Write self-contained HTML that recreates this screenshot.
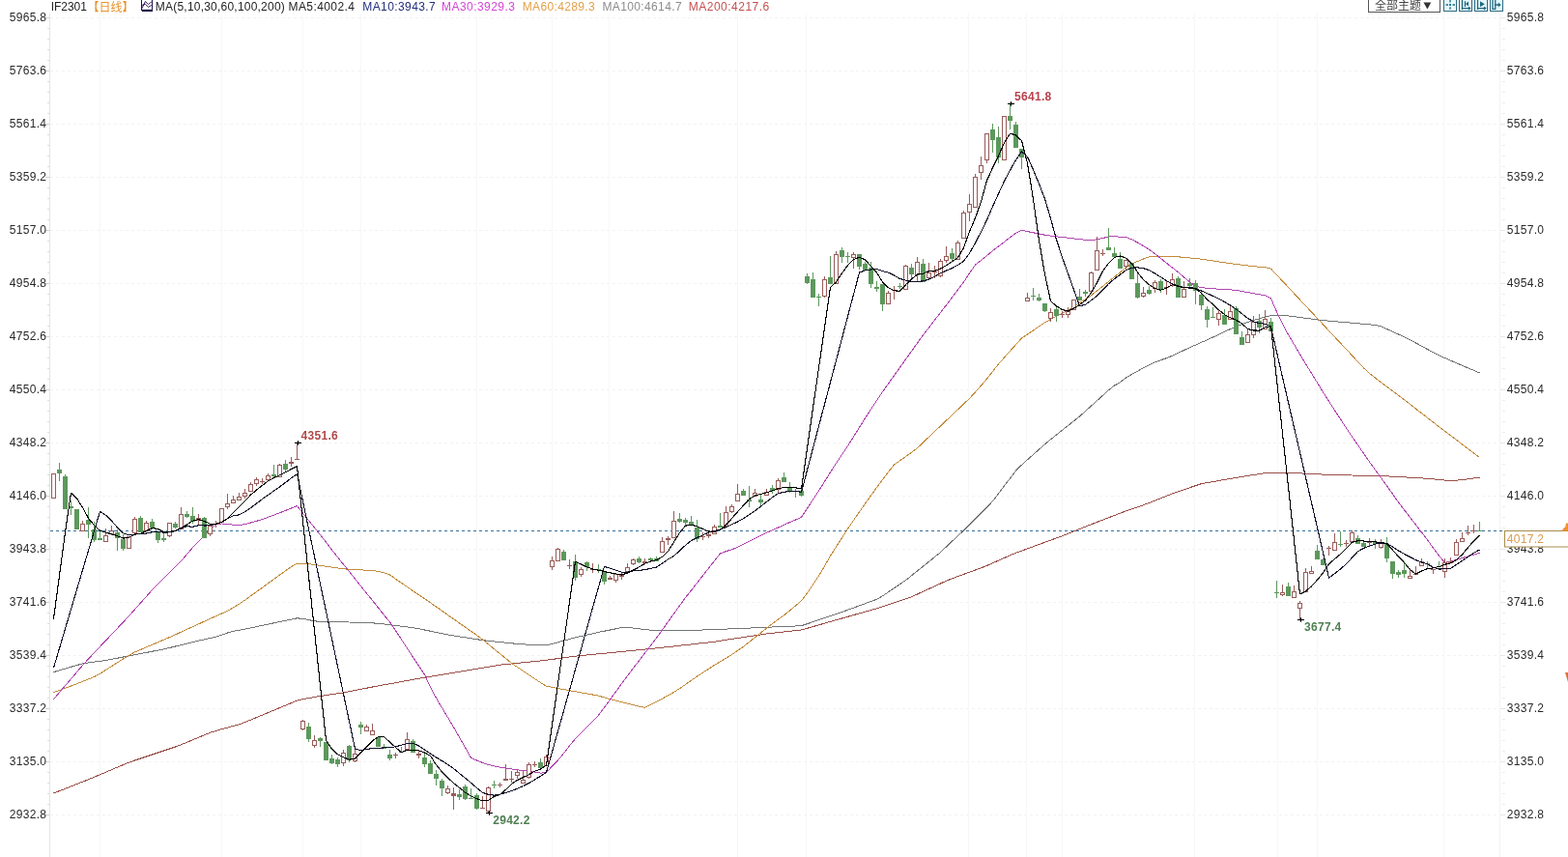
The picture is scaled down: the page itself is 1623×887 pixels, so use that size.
<!DOCTYPE html>
<html><head><meta charset="utf-8"><title>IF2301</title>
<style>
html,body{margin:0;padding:0;background:#fff;}
body{width:1623px;height:887px;overflow:hidden;position:relative;font-family:"Liberation Sans","Noto Sans CJK SC",sans-serif;}
svg{position:absolute;left:0;top:0;}
.ax{font-size:12px;fill:#2a2a2a;font-family:"Liberation Sans",sans-serif;letter-spacing:0.3px;}
.hl{font-size:12px;font-weight:bold;font-family:"Liberation Sans",sans-serif;letter-spacing:0.3px;}
.lg{position:absolute;top:0px;font-size:12px;line-height:14px;white-space:nowrap;letter-spacing:0.35px;}
.tb{position:absolute;}
.lgt{font-size:12px;font-family:"Liberation Sans",sans-serif;}
</style></head><body>
<svg width="1623" height="887" viewBox="0 0 1623 887">
<line x1="52" y1="18.5" x2="1552" y2="18.5" stroke="#f2f2f2" stroke-width="1" stroke-dasharray="3,3"/>
<line x1="47" y1="18.5" x2="51" y2="18.5" stroke="#d0d0d0" stroke-width="1"/>
<line x1="1553" y1="18.5" x2="1558" y2="18.5" stroke="#e6e6e6" stroke-width="1"/>
<line x1="49" y1="29.5" x2="51" y2="29.5" stroke="#dedede" stroke-width="1"/>
<line x1="1555" y1="29.5" x2="1558" y2="29.5" stroke="#ececec" stroke-width="1"/>
<line x1="49" y1="40.5" x2="51" y2="40.5" stroke="#dedede" stroke-width="1"/>
<line x1="1555" y1="40.5" x2="1558" y2="40.5" stroke="#ececec" stroke-width="1"/>
<line x1="49" y1="51.5" x2="51" y2="51.5" stroke="#dedede" stroke-width="1"/>
<line x1="1555" y1="51.5" x2="1558" y2="51.5" stroke="#ececec" stroke-width="1"/>
<line x1="49" y1="62.5" x2="51" y2="62.5" stroke="#dedede" stroke-width="1"/>
<line x1="1555" y1="62.5" x2="1558" y2="62.5" stroke="#ececec" stroke-width="1"/>
<line x1="52" y1="73.5" x2="1552" y2="73.5" stroke="#f2f2f2" stroke-width="1" stroke-dasharray="3,3"/>
<line x1="47" y1="73.5" x2="51" y2="73.5" stroke="#d0d0d0" stroke-width="1"/>
<line x1="1553" y1="73.5" x2="1558" y2="73.5" stroke="#e6e6e6" stroke-width="1"/>
<line x1="49" y1="84.5" x2="51" y2="84.5" stroke="#dedede" stroke-width="1"/>
<line x1="1555" y1="84.5" x2="1558" y2="84.5" stroke="#ececec" stroke-width="1"/>
<line x1="49" y1="95.5" x2="51" y2="95.5" stroke="#dedede" stroke-width="1"/>
<line x1="1555" y1="95.5" x2="1558" y2="95.5" stroke="#ececec" stroke-width="1"/>
<line x1="49" y1="106.5" x2="51" y2="106.5" stroke="#dedede" stroke-width="1"/>
<line x1="1555" y1="106.5" x2="1558" y2="106.5" stroke="#ececec" stroke-width="1"/>
<line x1="49" y1="117.5" x2="51" y2="117.5" stroke="#dedede" stroke-width="1"/>
<line x1="1555" y1="117.5" x2="1558" y2="117.5" stroke="#ececec" stroke-width="1"/>
<line x1="52" y1="128.5" x2="1552" y2="128.5" stroke="#f2f2f2" stroke-width="1" stroke-dasharray="3,3"/>
<line x1="47" y1="128.5" x2="51" y2="128.5" stroke="#d0d0d0" stroke-width="1"/>
<line x1="1553" y1="128.5" x2="1558" y2="128.5" stroke="#e6e6e6" stroke-width="1"/>
<line x1="49" y1="139.5" x2="51" y2="139.5" stroke="#dedede" stroke-width="1"/>
<line x1="1555" y1="139.5" x2="1558" y2="139.5" stroke="#ececec" stroke-width="1"/>
<line x1="49" y1="150.5" x2="51" y2="150.5" stroke="#dedede" stroke-width="1"/>
<line x1="1555" y1="150.5" x2="1558" y2="150.5" stroke="#ececec" stroke-width="1"/>
<line x1="49" y1="161.5" x2="51" y2="161.5" stroke="#dedede" stroke-width="1"/>
<line x1="1555" y1="161.5" x2="1558" y2="161.5" stroke="#ececec" stroke-width="1"/>
<line x1="49" y1="172.5" x2="51" y2="172.5" stroke="#dedede" stroke-width="1"/>
<line x1="1555" y1="172.5" x2="1558" y2="172.5" stroke="#ececec" stroke-width="1"/>
<line x1="52" y1="183.5" x2="1552" y2="183.5" stroke="#f2f2f2" stroke-width="1" stroke-dasharray="3,3"/>
<line x1="47" y1="183.5" x2="51" y2="183.5" stroke="#d0d0d0" stroke-width="1"/>
<line x1="1553" y1="183.5" x2="1558" y2="183.5" stroke="#e6e6e6" stroke-width="1"/>
<line x1="49" y1="194.5" x2="51" y2="194.5" stroke="#dedede" stroke-width="1"/>
<line x1="1555" y1="194.5" x2="1558" y2="194.5" stroke="#ececec" stroke-width="1"/>
<line x1="49" y1="205.5" x2="51" y2="205.5" stroke="#dedede" stroke-width="1"/>
<line x1="1555" y1="205.5" x2="1558" y2="205.5" stroke="#ececec" stroke-width="1"/>
<line x1="49" y1="216.5" x2="51" y2="216.5" stroke="#dedede" stroke-width="1"/>
<line x1="1555" y1="216.5" x2="1558" y2="216.5" stroke="#ececec" stroke-width="1"/>
<line x1="49" y1="227.5" x2="51" y2="227.5" stroke="#dedede" stroke-width="1"/>
<line x1="1555" y1="227.5" x2="1558" y2="227.5" stroke="#ececec" stroke-width="1"/>
<line x1="52" y1="238.5" x2="1552" y2="238.5" stroke="#f2f2f2" stroke-width="1" stroke-dasharray="3,3"/>
<line x1="47" y1="238.5" x2="51" y2="238.5" stroke="#d0d0d0" stroke-width="1"/>
<line x1="1553" y1="238.5" x2="1558" y2="238.5" stroke="#e6e6e6" stroke-width="1"/>
<line x1="49" y1="249.5" x2="51" y2="249.5" stroke="#dedede" stroke-width="1"/>
<line x1="1555" y1="249.5" x2="1558" y2="249.5" stroke="#ececec" stroke-width="1"/>
<line x1="49" y1="260.5" x2="51" y2="260.5" stroke="#dedede" stroke-width="1"/>
<line x1="1555" y1="260.5" x2="1558" y2="260.5" stroke="#ececec" stroke-width="1"/>
<line x1="49" y1="271.5" x2="51" y2="271.5" stroke="#dedede" stroke-width="1"/>
<line x1="1555" y1="271.5" x2="1558" y2="271.5" stroke="#ececec" stroke-width="1"/>
<line x1="49" y1="282.5" x2="51" y2="282.5" stroke="#dedede" stroke-width="1"/>
<line x1="1555" y1="282.5" x2="1558" y2="282.5" stroke="#ececec" stroke-width="1"/>
<line x1="52" y1="293.5" x2="1552" y2="293.5" stroke="#f2f2f2" stroke-width="1" stroke-dasharray="3,3"/>
<line x1="47" y1="293.5" x2="51" y2="293.5" stroke="#d0d0d0" stroke-width="1"/>
<line x1="1553" y1="293.5" x2="1558" y2="293.5" stroke="#e6e6e6" stroke-width="1"/>
<line x1="49" y1="304.5" x2="51" y2="304.5" stroke="#dedede" stroke-width="1"/>
<line x1="1555" y1="304.5" x2="1558" y2="304.5" stroke="#ececec" stroke-width="1"/>
<line x1="49" y1="315.5" x2="51" y2="315.5" stroke="#dedede" stroke-width="1"/>
<line x1="1555" y1="315.5" x2="1558" y2="315.5" stroke="#ececec" stroke-width="1"/>
<line x1="49" y1="326.5" x2="51" y2="326.5" stroke="#dedede" stroke-width="1"/>
<line x1="1555" y1="326.5" x2="1558" y2="326.5" stroke="#ececec" stroke-width="1"/>
<line x1="49" y1="337.5" x2="51" y2="337.5" stroke="#dedede" stroke-width="1"/>
<line x1="1555" y1="337.5" x2="1558" y2="337.5" stroke="#ececec" stroke-width="1"/>
<line x1="52" y1="348.5" x2="1552" y2="348.5" stroke="#f2f2f2" stroke-width="1" stroke-dasharray="3,3"/>
<line x1="47" y1="348.5" x2="51" y2="348.5" stroke="#d0d0d0" stroke-width="1"/>
<line x1="1553" y1="348.5" x2="1558" y2="348.5" stroke="#e6e6e6" stroke-width="1"/>
<line x1="49" y1="359.5" x2="51" y2="359.5" stroke="#dedede" stroke-width="1"/>
<line x1="1555" y1="359.5" x2="1558" y2="359.5" stroke="#ececec" stroke-width="1"/>
<line x1="49" y1="370.5" x2="51" y2="370.5" stroke="#dedede" stroke-width="1"/>
<line x1="1555" y1="370.5" x2="1558" y2="370.5" stroke="#ececec" stroke-width="1"/>
<line x1="49" y1="381.5" x2="51" y2="381.5" stroke="#dedede" stroke-width="1"/>
<line x1="1555" y1="381.5" x2="1558" y2="381.5" stroke="#ececec" stroke-width="1"/>
<line x1="49" y1="392.5" x2="51" y2="392.5" stroke="#dedede" stroke-width="1"/>
<line x1="1555" y1="392.5" x2="1558" y2="392.5" stroke="#ececec" stroke-width="1"/>
<line x1="52" y1="403.5" x2="1552" y2="403.5" stroke="#f2f2f2" stroke-width="1" stroke-dasharray="3,3"/>
<line x1="47" y1="403.5" x2="51" y2="403.5" stroke="#d0d0d0" stroke-width="1"/>
<line x1="1553" y1="403.5" x2="1558" y2="403.5" stroke="#e6e6e6" stroke-width="1"/>
<line x1="49" y1="414.5" x2="51" y2="414.5" stroke="#dedede" stroke-width="1"/>
<line x1="1555" y1="414.5" x2="1558" y2="414.5" stroke="#ececec" stroke-width="1"/>
<line x1="49" y1="425.5" x2="51" y2="425.5" stroke="#dedede" stroke-width="1"/>
<line x1="1555" y1="425.5" x2="1558" y2="425.5" stroke="#ececec" stroke-width="1"/>
<line x1="49" y1="436.5" x2="51" y2="436.5" stroke="#dedede" stroke-width="1"/>
<line x1="1555" y1="436.5" x2="1558" y2="436.5" stroke="#ececec" stroke-width="1"/>
<line x1="49" y1="447.5" x2="51" y2="447.5" stroke="#dedede" stroke-width="1"/>
<line x1="1555" y1="447.5" x2="1558" y2="447.5" stroke="#ececec" stroke-width="1"/>
<line x1="52" y1="458.5" x2="1552" y2="458.5" stroke="#f2f2f2" stroke-width="1" stroke-dasharray="3,3"/>
<line x1="47" y1="458.5" x2="51" y2="458.5" stroke="#d0d0d0" stroke-width="1"/>
<line x1="1553" y1="458.5" x2="1558" y2="458.5" stroke="#e6e6e6" stroke-width="1"/>
<line x1="49" y1="469.5" x2="51" y2="469.5" stroke="#dedede" stroke-width="1"/>
<line x1="1555" y1="469.5" x2="1558" y2="469.5" stroke="#ececec" stroke-width="1"/>
<line x1="49" y1="480.5" x2="51" y2="480.5" stroke="#dedede" stroke-width="1"/>
<line x1="1555" y1="480.5" x2="1558" y2="480.5" stroke="#ececec" stroke-width="1"/>
<line x1="49" y1="491.5" x2="51" y2="491.5" stroke="#dedede" stroke-width="1"/>
<line x1="1555" y1="491.5" x2="1558" y2="491.5" stroke="#ececec" stroke-width="1"/>
<line x1="49" y1="502.5" x2="51" y2="502.5" stroke="#dedede" stroke-width="1"/>
<line x1="1555" y1="502.5" x2="1558" y2="502.5" stroke="#ececec" stroke-width="1"/>
<line x1="52" y1="513.5" x2="1552" y2="513.5" stroke="#f2f2f2" stroke-width="1" stroke-dasharray="3,3"/>
<line x1="47" y1="513.5" x2="51" y2="513.5" stroke="#d0d0d0" stroke-width="1"/>
<line x1="1553" y1="513.5" x2="1558" y2="513.5" stroke="#e6e6e6" stroke-width="1"/>
<line x1="49" y1="524.5" x2="51" y2="524.5" stroke="#dedede" stroke-width="1"/>
<line x1="1555" y1="524.5" x2="1558" y2="524.5" stroke="#ececec" stroke-width="1"/>
<line x1="49" y1="535.5" x2="51" y2="535.5" stroke="#dedede" stroke-width="1"/>
<line x1="1555" y1="535.5" x2="1558" y2="535.5" stroke="#ececec" stroke-width="1"/>
<line x1="49" y1="546.5" x2="51" y2="546.5" stroke="#dedede" stroke-width="1"/>
<line x1="1555" y1="546.5" x2="1558" y2="546.5" stroke="#ececec" stroke-width="1"/>
<line x1="49" y1="557.5" x2="51" y2="557.5" stroke="#dedede" stroke-width="1"/>
<line x1="1555" y1="557.5" x2="1558" y2="557.5" stroke="#ececec" stroke-width="1"/>
<line x1="52" y1="568.5" x2="1552" y2="568.5" stroke="#f2f2f2" stroke-width="1" stroke-dasharray="3,3"/>
<line x1="47" y1="568.5" x2="51" y2="568.5" stroke="#d0d0d0" stroke-width="1"/>
<line x1="1553" y1="568.5" x2="1558" y2="568.5" stroke="#e6e6e6" stroke-width="1"/>
<line x1="49" y1="579.5" x2="51" y2="579.5" stroke="#dedede" stroke-width="1"/>
<line x1="1555" y1="579.5" x2="1558" y2="579.5" stroke="#ececec" stroke-width="1"/>
<line x1="49" y1="590.5" x2="51" y2="590.5" stroke="#dedede" stroke-width="1"/>
<line x1="1555" y1="590.5" x2="1558" y2="590.5" stroke="#ececec" stroke-width="1"/>
<line x1="49" y1="601.5" x2="51" y2="601.5" stroke="#dedede" stroke-width="1"/>
<line x1="1555" y1="601.5" x2="1558" y2="601.5" stroke="#ececec" stroke-width="1"/>
<line x1="49" y1="612.5" x2="51" y2="612.5" stroke="#dedede" stroke-width="1"/>
<line x1="1555" y1="612.5" x2="1558" y2="612.5" stroke="#ececec" stroke-width="1"/>
<line x1="52" y1="623.5" x2="1552" y2="623.5" stroke="#f2f2f2" stroke-width="1" stroke-dasharray="3,3"/>
<line x1="47" y1="623.5" x2="51" y2="623.5" stroke="#d0d0d0" stroke-width="1"/>
<line x1="1553" y1="623.5" x2="1558" y2="623.5" stroke="#e6e6e6" stroke-width="1"/>
<line x1="49" y1="634.5" x2="51" y2="634.5" stroke="#dedede" stroke-width="1"/>
<line x1="1555" y1="634.5" x2="1558" y2="634.5" stroke="#ececec" stroke-width="1"/>
<line x1="49" y1="645.5" x2="51" y2="645.5" stroke="#dedede" stroke-width="1"/>
<line x1="1555" y1="645.5" x2="1558" y2="645.5" stroke="#ececec" stroke-width="1"/>
<line x1="49" y1="656.5" x2="51" y2="656.5" stroke="#dedede" stroke-width="1"/>
<line x1="1555" y1="656.5" x2="1558" y2="656.5" stroke="#ececec" stroke-width="1"/>
<line x1="49" y1="667.5" x2="51" y2="667.5" stroke="#dedede" stroke-width="1"/>
<line x1="1555" y1="667.5" x2="1558" y2="667.5" stroke="#ececec" stroke-width="1"/>
<line x1="52" y1="678.5" x2="1552" y2="678.5" stroke="#f2f2f2" stroke-width="1" stroke-dasharray="3,3"/>
<line x1="47" y1="678.5" x2="51" y2="678.5" stroke="#d0d0d0" stroke-width="1"/>
<line x1="1553" y1="678.5" x2="1558" y2="678.5" stroke="#e6e6e6" stroke-width="1"/>
<line x1="49" y1="689.5" x2="51" y2="689.5" stroke="#dedede" stroke-width="1"/>
<line x1="1555" y1="689.5" x2="1558" y2="689.5" stroke="#ececec" stroke-width="1"/>
<line x1="49" y1="700.5" x2="51" y2="700.5" stroke="#dedede" stroke-width="1"/>
<line x1="1555" y1="700.5" x2="1558" y2="700.5" stroke="#ececec" stroke-width="1"/>
<line x1="49" y1="711.5" x2="51" y2="711.5" stroke="#dedede" stroke-width="1"/>
<line x1="1555" y1="711.5" x2="1558" y2="711.5" stroke="#ececec" stroke-width="1"/>
<line x1="49" y1="722.5" x2="51" y2="722.5" stroke="#dedede" stroke-width="1"/>
<line x1="1555" y1="722.5" x2="1558" y2="722.5" stroke="#ececec" stroke-width="1"/>
<line x1="52" y1="733.5" x2="1552" y2="733.5" stroke="#f2f2f2" stroke-width="1" stroke-dasharray="3,3"/>
<line x1="47" y1="733.5" x2="51" y2="733.5" stroke="#d0d0d0" stroke-width="1"/>
<line x1="1553" y1="733.5" x2="1558" y2="733.5" stroke="#e6e6e6" stroke-width="1"/>
<line x1="49" y1="744.5" x2="51" y2="744.5" stroke="#dedede" stroke-width="1"/>
<line x1="1555" y1="744.5" x2="1558" y2="744.5" stroke="#ececec" stroke-width="1"/>
<line x1="49" y1="755.5" x2="51" y2="755.5" stroke="#dedede" stroke-width="1"/>
<line x1="1555" y1="755.5" x2="1558" y2="755.5" stroke="#ececec" stroke-width="1"/>
<line x1="49" y1="766.5" x2="51" y2="766.5" stroke="#dedede" stroke-width="1"/>
<line x1="1555" y1="766.5" x2="1558" y2="766.5" stroke="#ececec" stroke-width="1"/>
<line x1="49" y1="777.5" x2="51" y2="777.5" stroke="#dedede" stroke-width="1"/>
<line x1="1555" y1="777.5" x2="1558" y2="777.5" stroke="#ececec" stroke-width="1"/>
<line x1="52" y1="788.5" x2="1552" y2="788.5" stroke="#f2f2f2" stroke-width="1" stroke-dasharray="3,3"/>
<line x1="47" y1="788.5" x2="51" y2="788.5" stroke="#d0d0d0" stroke-width="1"/>
<line x1="1553" y1="788.5" x2="1558" y2="788.5" stroke="#e6e6e6" stroke-width="1"/>
<line x1="49" y1="799.5" x2="51" y2="799.5" stroke="#dedede" stroke-width="1"/>
<line x1="1555" y1="799.5" x2="1558" y2="799.5" stroke="#ececec" stroke-width="1"/>
<line x1="49" y1="810.5" x2="51" y2="810.5" stroke="#dedede" stroke-width="1"/>
<line x1="1555" y1="810.5" x2="1558" y2="810.5" stroke="#ececec" stroke-width="1"/>
<line x1="49" y1="821.5" x2="51" y2="821.5" stroke="#dedede" stroke-width="1"/>
<line x1="1555" y1="821.5" x2="1558" y2="821.5" stroke="#ececec" stroke-width="1"/>
<line x1="49" y1="832.5" x2="51" y2="832.5" stroke="#dedede" stroke-width="1"/>
<line x1="1555" y1="832.5" x2="1558" y2="832.5" stroke="#ececec" stroke-width="1"/>
<line x1="52" y1="843.5" x2="1552" y2="843.5" stroke="#f2f2f2" stroke-width="1" stroke-dasharray="3,3"/>
<line x1="47" y1="843.5" x2="51" y2="843.5" stroke="#d0d0d0" stroke-width="1"/>
<line x1="1553" y1="843.5" x2="1558" y2="843.5" stroke="#e6e6e6" stroke-width="1"/>
<line x1="103.5" y1="14" x2="103.5" y2="887" stroke="#f7f7f7" stroke-width="1"/>
<line x1="229.5" y1="14" x2="229.5" y2="887" stroke="#f7f7f7" stroke-width="1"/>
<line x1="313.5" y1="14" x2="313.5" y2="887" stroke="#f7f7f7" stroke-width="1"/>
<line x1="373.5" y1="14" x2="373.5" y2="887" stroke="#f7f7f7" stroke-width="1"/>
<line x1="493.5" y1="14" x2="493.5" y2="887" stroke="#f7f7f7" stroke-width="1"/>
<line x1="571.5" y1="14" x2="571.5" y2="887" stroke="#f7f7f7" stroke-width="1"/>
<line x1="630.5" y1="14" x2="630.5" y2="887" stroke="#f7f7f7" stroke-width="1"/>
<line x1="763.5" y1="14" x2="763.5" y2="887" stroke="#f7f7f7" stroke-width="1"/>
<line x1="834.5" y1="14" x2="834.5" y2="887" stroke="#f7f7f7" stroke-width="1"/>
<line x1="1002.5" y1="14" x2="1002.5" y2="887" stroke="#f7f7f7" stroke-width="1"/>
<line x1="1062.5" y1="14" x2="1062.5" y2="887" stroke="#f7f7f7" stroke-width="1"/>
<line x1="1099.5" y1="14" x2="1099.5" y2="887" stroke="#f7f7f7" stroke-width="1"/>
<line x1="1236.5" y1="14" x2="1236.5" y2="887" stroke="#f7f7f7" stroke-width="1"/>
<line x1="1322.5" y1="14" x2="1322.5" y2="887" stroke="#f7f7f7" stroke-width="1"/>
<line x1="1363.5" y1="14" x2="1363.5" y2="887" stroke="#f7f7f7" stroke-width="1"/>
<line x1="1494.5" y1="14" x2="1494.5" y2="887" stroke="#f7f7f7" stroke-width="1"/>
<line x1="51.5" y1="14" x2="51.5" y2="887" stroke="#e4e4e4" stroke-width="1"/>
<line x1="1552.5" y1="14" x2="1552.5" y2="887" stroke="#f3f3f3" stroke-width="1"/>
<line x1="52" y1="549.5" x2="1557" y2="549.5" stroke="#34709e" stroke-width="1" stroke-dasharray="3,3"/>
<polyline points="55.5,821.0 61.5,818.6 67.5,816.3 73.5,813.9 79.5,811.5 85.5,809.2 91.5,806.8 97.5,804.3 103.5,801.8 109.5,799.2 115.5,796.7 121.5,794.1 127.5,791.6 133.5,789.1 139.5,787.0 145.5,785.0 151.5,783.0 157.5,781.0 163.5,779.0 169.5,777.0 175.5,775.0 181.5,773.0 187.5,770.8 193.5,768.3 199.5,765.8 205.5,763.3 211.5,760.8 217.5,758.3 223.5,756.4 229.5,754.7 235.5,753.1 241.5,751.4 247.5,749.8 253.5,747.6 259.5,745.1 265.5,742.6 271.5,740.1 277.5,737.6 283.5,735.1 289.5,732.6 295.5,730.1 301.5,727.6 307.5,725.1 313.5,723.7 319.5,722.6 325.5,721.5 331.5,720.5 337.5,719.6 343.5,718.7 349.5,717.8 355.5,716.9 361.5,715.8 367.5,714.6 373.5,713.4 379.5,712.2 385.5,711.0 391.5,709.9 397.5,708.8 403.5,707.8 409.5,706.7 415.5,705.6 421.5,704.4 427.5,703.3 433.5,702.2 439.5,701.2 445.5,700.2 451.5,699.2 457.5,698.2 463.5,697.2 469.5,696.2 475.5,695.2 481.5,694.2 487.5,693.2 493.5,692.2 499.5,691.2 505.5,690.2 511.5,689.2 517.5,688.2 523.5,687.6 529.5,687.0 535.5,686.4 541.5,685.8 547.5,685.2 553.5,684.6 559.5,684.0 565.5,683.2 571.5,682.4 577.5,681.6 583.5,680.8 589.5,679.9 595.5,679.2 601.5,678.6 607.5,678.0 613.5,677.4 619.5,676.8 625.5,676.3 631.5,675.7 637.5,675.1 643.5,674.5 649.5,673.9 655.5,673.3 661.5,672.7 667.5,672.1 673.5,671.5 679.5,670.9 685.5,670.2 691.5,669.6 697.5,668.9 703.5,668.2 709.5,667.6 715.5,666.9 721.5,666.2 727.5,665.6 733.5,664.9 739.5,664.2 745.5,663.3 751.5,662.3 757.5,661.4 763.5,660.5 769.5,659.6 775.5,658.7 781.5,657.8 787.5,656.9 793.5,656.0 799.5,655.3 805.5,654.6 811.5,654.0 817.5,653.3 823.5,652.7 829.5,652.0 835.5,650.3 841.5,648.6 847.5,646.9 853.5,645.1 859.5,643.4 865.5,641.7 871.5,640.0 877.5,638.3 883.5,636.6 889.5,634.9 895.5,633.2 901.5,631.5 907.5,629.8 913.5,627.8 919.5,625.9 925.5,623.9 931.5,621.9 937.5,619.9 943.5,617.7 949.5,615.0 955.5,612.2 961.5,609.5 967.5,606.7 973.5,604.0 979.5,601.2 985.5,598.8 991.5,596.6 997.5,594.4 1003.5,592.2 1009.5,590.0 1015.5,587.8 1021.5,585.5 1027.5,582.8 1033.5,580.1 1039.5,577.5 1045.5,574.8 1051.5,572.3 1057.5,570.1 1063.5,567.9 1069.5,565.7 1075.5,563.5 1081.5,561.3 1087.5,559.1 1093.5,556.9 1099.5,554.7 1105.5,552.3 1111.5,549.9 1117.5,547.5 1123.5,545.1 1129.5,542.8 1135.5,540.4 1141.5,538.1 1147.5,535.8 1153.5,533.5 1159.5,531.2 1165.5,528.9 1171.5,526.9 1177.5,524.8 1183.5,522.7 1189.5,520.5 1195.5,518.1 1201.5,515.7 1207.5,513.3 1213.5,510.9 1219.5,508.9 1225.5,506.8 1231.5,504.7 1237.5,502.7 1243.5,500.7 1249.5,499.6 1255.5,498.6 1261.5,497.5 1267.5,496.4 1273.5,495.4 1279.5,494.4 1285.5,493.4 1291.5,492.4 1297.5,491.5 1303.5,490.6 1309.5,489.7 1315.5,489.1 1321.5,489.3 1327.5,489.4 1333.5,489.5 1339.5,489.7 1345.5,489.9 1351.5,490.2 1357.5,490.5 1363.5,490.8 1369.5,491.1 1375.5,491.3 1381.5,491.6 1387.5,491.8 1393.5,491.9 1399.5,492.0 1405.5,492.2 1411.5,492.3 1417.5,492.5 1423.5,492.6 1429.5,492.8 1435.5,492.9 1441.5,493.2 1447.5,493.6 1453.5,493.9 1459.5,494.2 1465.5,494.5 1471.5,494.9 1477.5,495.3 1483.5,495.9 1489.5,496.5 1495.5,497.1 1501.5,497.7 1507.5,497.2 1513.5,496.5 1519.5,495.8 1525.5,495.0 1531.5,494.3" fill="none" stroke="#9a4e48" stroke-width="1" stroke-linejoin="round" shape-rendering="crispEdges"/>
<polyline points="55.5,695.6 61.5,693.8 67.5,692.1 73.5,690.3 79.5,688.6 85.5,686.8 91.5,685.9 97.5,685.1 103.5,684.4 109.5,683.6 115.5,682.4 121.5,681.2 127.5,680.0 133.5,678.8 139.5,677.7 145.5,676.5 151.5,675.4 157.5,674.2 163.5,673.1 169.5,671.9 175.5,670.5 181.5,669.0 187.5,667.6 193.5,666.1 199.5,664.6 205.5,663.2 211.5,661.9 217.5,660.5 223.5,659.2 229.5,657.2 235.5,655.0 241.5,653.3 247.5,652.3 253.5,651.2 259.5,649.9 265.5,648.6 271.5,647.4 277.5,646.1 283.5,644.8 289.5,643.6 295.5,642.3 301.5,641.1 307.5,639.8 313.5,640.4 319.5,641.6 325.5,642.8 331.5,643.4 337.5,643.5 343.5,643.6 349.5,643.7 355.5,643.9 361.5,644.0 367.5,644.2 373.5,644.4 379.5,644.6 385.5,644.8 391.5,645.4 397.5,646.0 403.5,646.7 409.5,647.5 415.5,648.2 421.5,648.9 427.5,649.7 433.5,650.7 439.5,652.0 445.5,653.2 451.5,654.5 457.5,655.7 463.5,656.9 469.5,658.0 475.5,658.9 481.5,659.8 487.5,660.8 493.5,661.7 499.5,662.6 505.5,663.4 511.5,664.0 517.5,664.6 523.5,665.2 529.5,665.8 535.5,666.4 541.5,666.9 547.5,667.2 553.5,667.6 559.5,667.9 565.5,668.0 571.5,666.4 577.5,664.8 583.5,663.1 589.5,661.5 595.5,659.9 601.5,658.5 607.5,657.2 613.5,655.8 619.5,654.4 625.5,653.2 631.5,652.0 637.5,650.8 643.5,649.6 649.5,649.4 655.5,650.1 661.5,650.8 667.5,651.5 673.5,652.2 679.5,652.8 685.5,652.7 691.5,652.6 697.5,652.5 703.5,652.5 709.5,652.4 715.5,652.3 721.5,652.2 727.5,652.0 733.5,651.8 739.5,651.5 745.5,651.3 751.5,651.1 757.5,650.8 763.5,650.6 769.5,650.4 775.5,650.1 781.5,649.8 787.5,649.6 793.5,649.3 799.5,649.0 805.5,648.8 811.5,648.5 817.5,648.2 823.5,648.0 829.5,647.7 835.5,645.7 841.5,643.6 847.5,641.6 853.5,639.6 859.5,637.6 865.5,635.5 871.5,633.5 877.5,631.3 883.5,629.1 889.5,626.9 895.5,624.7 901.5,622.5 907.5,620.3 913.5,616.9 919.5,612.8 925.5,608.7 931.5,604.6 937.5,600.5 943.5,595.8 949.5,590.9 955.5,586.1 961.5,581.3 967.5,576.5 973.5,571.5 979.5,565.9 985.5,560.2 991.5,554.6 997.5,549.0 1003.5,543.1 1009.5,537.1 1015.5,531.1 1021.5,525.1 1027.5,518.7 1033.5,510.8 1039.5,502.9 1045.5,495.1 1051.5,487.2 1057.5,481.2 1063.5,475.8 1069.5,470.5 1075.5,465.1 1081.5,459.8 1087.5,454.8 1093.5,450.0 1099.5,445.2 1105.5,440.5 1111.5,435.7 1117.5,430.9 1123.5,425.5 1129.5,420.1 1135.5,414.7 1141.5,409.2 1147.5,403.8 1153.5,399.1 1159.5,395.6 1165.5,391.1 1171.5,387.4 1177.5,384.1 1183.5,380.8 1189.5,377.8 1195.5,374.8 1201.5,372.7 1207.5,370.7 1213.5,368.2 1219.5,365.3 1225.5,362.5 1231.5,359.7 1237.5,357.1 1243.5,354.4 1249.5,351.8 1255.5,349.0 1261.5,346.2 1267.5,343.3 1273.5,340.5 1279.5,338.0 1285.5,335.7 1291.5,333.5 1297.5,331.5 1303.5,329.8 1309.5,328.1 1315.5,326.7 1321.5,326.7 1327.5,326.8 1333.5,326.9 1339.5,327.7 1345.5,328.5 1351.5,329.3 1357.5,330.1 1363.5,330.9 1369.5,331.6 1375.5,332.1 1381.5,332.7 1387.5,333.2 1393.5,333.7 1399.5,334.3 1405.5,334.8 1411.5,335.4 1417.5,335.9 1423.5,336.5 1429.5,337.8 1435.5,340.6 1441.5,343.3 1447.5,346.0 1453.5,348.8 1459.5,351.7 1465.5,355.0 1471.5,358.2 1477.5,361.5 1483.5,364.7 1489.5,367.9 1495.5,370.5 1501.5,373.1 1507.5,375.7 1513.5,378.3 1519.5,380.8 1525.5,383.4 1531.5,386.0" fill="none" stroke="#727575" stroke-width="1" stroke-linejoin="round" shape-rendering="crispEdges"/>
<polyline points="55.5,716.7 61.5,714.5 67.5,712.2 73.5,710.0 79.5,707.7 85.5,705.3 91.5,702.9 97.5,700.5 103.5,697.2 109.5,693.4 115.5,689.6 121.5,685.8 127.5,682.0 133.5,678.3 139.5,674.9 145.5,672.4 151.5,669.8 157.5,667.3 163.5,664.7 169.5,662.2 175.5,659.6 181.5,656.9 187.5,654.1 193.5,651.4 199.5,648.6 205.5,645.9 211.5,643.1 217.5,640.4 223.5,637.7 229.5,635.0 235.5,632.3 241.5,628.8 247.5,625.2 253.5,621.2 259.5,616.8 265.5,612.5 271.5,608.2 277.5,603.8 283.5,599.5 289.5,595.1 295.5,590.8 301.5,586.5 307.5,583.2 313.5,583.2 319.5,583.7 325.5,584.5 331.5,585.4 337.5,586.2 343.5,587.1 349.5,588.0 355.5,588.8 361.5,589.3 367.5,589.6 373.5,589.9 379.5,590.2 385.5,590.4 391.5,591.5 397.5,592.7 403.5,595.0 409.5,599.2 415.5,603.4 421.5,607.5 427.5,611.6 433.5,615.6 439.5,619.6 445.5,623.8 451.5,628.0 457.5,632.2 463.5,636.5 469.5,640.7 475.5,644.9 481.5,649.1 487.5,653.3 493.5,657.5 499.5,661.9 505.5,666.8 511.5,671.7 517.5,676.6 523.5,681.5 529.5,686.4 535.5,690.5 541.5,694.5 547.5,698.5 553.5,702.5 559.5,706.5 565.5,710.2 571.5,711.3 577.5,712.5 583.5,713.6 589.5,714.7 595.5,715.8 601.5,716.9 607.5,717.9 613.5,719.0 619.5,720.1 625.5,721.9 631.5,723.7 637.5,725.2 643.5,726.7 649.5,728.2 655.5,729.7 661.5,731.2 667.5,732.2 673.5,729.2 679.5,726.2 685.5,723.1 691.5,719.8 697.5,716.4 703.5,712.7 709.5,708.5 715.5,704.3 721.5,700.1 727.5,696.2 733.5,692.3 739.5,688.4 745.5,684.8 751.5,681.3 757.5,677.6 763.5,673.4 769.5,669.2 775.5,664.5 781.5,659.7 787.5,654.9 793.5,650.1 799.5,645.5 805.5,641.1 811.5,636.7 817.5,631.9 823.5,626.9 829.5,621.8 835.5,613.9 841.5,605.1 847.5,596.0 853.5,586.1 859.5,575.3 865.5,566.0 871.5,556.7 877.5,547.4 883.5,538.5 889.5,529.9 895.5,521.4 901.5,512.8 907.5,504.6 913.5,496.6 919.5,488.5 925.5,481.0 931.5,476.8 937.5,472.5 943.5,468.2 949.5,463.7 955.5,458.0 961.5,452.3 967.5,446.6 973.5,440.9 979.5,435.2 985.5,429.5 991.5,423.8 997.5,418.1 1003.5,412.4 1009.5,405.9 1015.5,399.1 1021.5,392.1 1027.5,384.5 1033.5,376.9 1039.5,370.0 1045.5,363.3 1051.5,356.7 1057.5,350.0 1063.5,346.0 1069.5,341.9 1075.5,337.9 1081.5,333.9 1087.5,330.4 1093.5,327.4 1099.5,324.4 1105.5,321.3 1111.5,317.4 1117.5,313.6 1123.5,309.7 1129.5,305.7 1135.5,301.0 1141.5,296.2 1147.5,291.4 1153.5,286.7 1159.5,281.9 1165.5,277.0 1171.5,273.1 1177.5,270.5 1183.5,268.0 1189.5,265.8 1195.5,265.5 1201.5,265.2 1207.5,265.2 1213.5,265.2 1219.5,265.8 1225.5,266.4 1231.5,267.0 1237.5,267.6 1243.5,268.2 1249.5,269.1 1255.5,270.0 1261.5,270.9 1267.5,271.8 1273.5,272.7 1279.5,273.5 1285.5,274.2 1291.5,275.0 1297.5,275.7 1303.5,276.3 1309.5,276.6 1315.5,278.1 1321.5,284.5 1327.5,290.9 1333.5,297.3 1339.5,303.8 1345.5,310.2 1351.5,316.6 1357.5,323.0 1363.5,329.4 1369.5,335.9 1375.5,342.3 1381.5,348.7 1387.5,355.1 1393.5,361.5 1399.5,368.0 1405.5,374.4 1411.5,380.8 1417.5,386.6 1423.5,391.1 1429.5,395.7 1435.5,400.2 1441.5,404.7 1447.5,409.2 1453.5,413.8 1459.5,418.4 1465.5,423.1 1471.5,427.8 1477.5,432.4 1483.5,437.1 1489.5,441.7 1495.5,446.2 1501.5,450.8 1507.5,455.3 1513.5,459.9 1519.5,464.4 1525.5,469.0 1531.5,473.5" fill="none" stroke="#c28c3c" stroke-width="1" stroke-linejoin="round" shape-rendering="crispEdges"/>
<polyline points="55.5,723.7 61.5,716.7 67.5,709.7 73.5,702.7 79.5,695.6 85.5,688.6 91.5,682.0 97.5,675.6 103.5,669.3 109.5,663.0 115.5,656.6 121.5,650.3 127.5,643.9 133.5,637.6 139.5,630.9 145.5,624.1 151.5,617.3 157.5,610.6 163.5,604.6 169.5,598.6 175.5,592.6 181.5,586.6 187.5,580.6 193.5,573.7 199.5,566.7 205.5,560.3 211.5,554.2 217.5,547.8 223.5,542.9 229.5,542.0 235.5,542.1 241.5,543.3 247.5,543.4 253.5,542.7 259.5,541.0 265.5,539.3 271.5,537.6 277.5,535.3 283.5,533.1 289.5,530.8 295.5,528.4 301.5,526.0 307.5,523.6 313.5,531.1 319.5,538.6 325.5,546.1 331.5,553.6 337.5,561.1 343.5,569.2 349.5,576.7 355.5,584.2 361.5,591.7 367.5,599.1 373.5,606.6 379.5,614.1 385.5,621.5 391.5,629.0 397.5,636.5 403.5,643.9 409.5,652.8 415.5,661.9 421.5,671.0 427.5,680.1 433.5,689.2 439.5,698.2 445.5,711.3 451.5,722.5 457.5,732.5 463.5,742.5 469.5,752.7 475.5,763.0 481.5,773.6 487.5,784.4 493.5,787.0 499.5,789.4 505.5,791.5 511.5,792.9 517.5,794.1 523.5,795.1 529.5,795.9 535.5,796.7 541.5,797.7 547.5,798.3 553.5,799.0 559.5,800.1 565.5,799.7 571.5,793.0 577.5,786.9 583.5,779.7 589.5,771.9 595.5,764.5 601.5,758.4 607.5,752.4 613.5,746.4 619.5,740.3 625.5,732.3 631.5,724.1 637.5,715.8 643.5,707.6 649.5,699.4 655.5,691.6 661.5,683.8 667.5,676.0 673.5,668.2 679.5,660.3 685.5,651.9 691.5,643.5 697.5,635.2 703.5,626.8 709.5,618.6 715.5,611.0 721.5,603.4 727.5,595.8 733.5,588.1 739.5,580.5 745.5,572.9 751.5,570.6 757.5,568.8 763.5,566.4 769.5,563.4 775.5,560.4 781.5,557.4 787.5,554.4 793.5,551.4 799.5,548.6 805.5,546.0 811.5,543.3 817.5,540.6 823.5,538.0 829.5,535.3 835.5,526.2 841.5,517.1 847.5,508.0 853.5,498.4 859.5,488.8 865.5,479.5 871.5,470.5 877.5,461.5 883.5,452.0 889.5,442.4 895.5,432.8 901.5,423.6 907.5,414.5 913.5,405.6 919.5,397.1 925.5,388.7 931.5,380.3 937.5,371.9 943.5,363.5 949.5,355.1 955.5,346.8 961.5,339.1 967.5,331.3 973.5,323.5 979.5,315.7 985.5,307.9 991.5,300.0 997.5,292.0 1003.5,282.8 1009.5,274.1 1015.5,269.4 1021.5,264.6 1027.5,259.6 1033.5,254.9 1039.5,250.4 1045.5,245.8 1051.5,241.3 1057.5,238.4 1063.5,239.6 1069.5,240.8 1075.5,242.0 1081.5,243.2 1087.5,244.1 1093.5,244.8 1099.5,245.5 1105.5,246.2 1111.5,246.9 1117.5,247.6 1123.5,248.3 1129.5,248.7 1135.5,247.7 1141.5,246.5 1147.5,245.0 1153.5,244.9 1159.5,245.1 1165.5,245.4 1171.5,247.9 1177.5,251.0 1183.5,254.6 1189.5,258.2 1195.5,262.7 1201.5,267.5 1207.5,272.3 1213.5,277.0 1219.5,281.8 1225.5,286.9 1231.5,292.0 1237.5,296.0 1243.5,297.7 1249.5,298.2 1255.5,298.8 1261.5,299.2 1267.5,299.6 1273.5,299.9 1279.5,300.4 1285.5,301.5 1291.5,302.6 1297.5,303.7 1303.5,304.8 1309.5,305.9 1315.5,308.9 1321.5,322.7 1327.5,335.4 1333.5,346.4 1339.5,356.5 1345.5,366.6 1351.5,376.6 1357.5,386.3 1363.5,396.1 1369.5,405.9 1375.5,415.3 1381.5,424.6 1387.5,433.8 1393.5,443.1 1399.5,452.0 1405.5,460.6 1411.5,469.3 1417.5,478.0 1423.5,486.4 1429.5,494.6 1435.5,502.9 1441.5,511.2 1447.5,520.0 1453.5,527.7 1459.5,535.5 1465.5,543.2 1471.5,551.0 1477.5,558.9 1483.5,567.1 1489.5,575.3 1495.5,582.4 1501.5,581.0 1507.5,579.4 1513.5,577.6 1519.5,575.8 1525.5,574.1 1531.5,572.4" fill="none" stroke="#b046b0" stroke-width="1" stroke-linejoin="round" shape-rendering="crispEdges"/>
<g shape-rendering="crispEdges">
<line x1="55.5" y1="490.5" x2="55.5" y2="515.5" stroke="#985c5a" stroke-width="1"/>
<rect x="53.5" y="490.5" width="4" height="25.0" fill="#fdf5f6" stroke="#985c5a" stroke-width="1"/>
<line x1="61.5" y1="478.8" x2="61.5" y2="497.9" stroke="#5c985c" stroke-width="1"/>
<rect x="59.0" y="486.1" width="5" height="3.7" fill="#5c985c"/>
<line x1="67.5" y1="491.3" x2="67.5" y2="526.5" stroke="#5c985c" stroke-width="1"/>
<rect x="65.0" y="492.7" width="5" height="33.8" fill="#5c985c"/>
<line x1="73.5" y1="518.4" x2="73.5" y2="533.0" stroke="#5c985c" stroke-width="1"/>
<rect x="71.0" y="524.3" width="5" height="1.4" fill="#5c985c"/>
<line x1="79.5" y1="527.2" x2="79.5" y2="548.4" stroke="#5c985c" stroke-width="1"/>
<rect x="77.0" y="527.2" width="5" height="21.2" fill="#5c985c"/>
<line x1="85.5" y1="538.9" x2="85.5" y2="549.2" stroke="#985c5a" stroke-width="1"/>
<rect x="83.5" y="542.6" width="4" height="6.6" fill="#fdf5f6" stroke="#985c5a" stroke-width="1"/>
<line x1="91.5" y1="525.0" x2="91.5" y2="557.2" stroke="#5c985c" stroke-width="1"/>
<rect x="89.0" y="538.2" width="5" height="4.4" fill="#5c985c"/>
<line x1="97.5" y1="540.4" x2="97.5" y2="560.9" stroke="#5c985c" stroke-width="1"/>
<rect x="95.0" y="547.7" width="5" height="11.7" fill="#5c985c"/>
<line x1="103.5" y1="547.7" x2="103.5" y2="559.4" stroke="#5c985c" stroke-width="1"/>
<rect x="101.0" y="556.5" width="5" height="2.2" fill="#5c985c"/>
<line x1="109.5" y1="547.0" x2="109.5" y2="560.2" stroke="#985c5a" stroke-width="1"/>
<rect x="107.5" y="554.3" width="4" height="5.9" fill="#fdf5f6" stroke="#985c5a" stroke-width="1"/>
<line x1="115.5" y1="544.0" x2="115.5" y2="554.3" stroke="#985c5a" stroke-width="1"/>
<rect x="113.5" y="549.2" width="4" height="2.9" fill="#fdf5f6" stroke="#985c5a" stroke-width="1"/>
<line x1="121.5" y1="548.4" x2="121.5" y2="569.7" stroke="#5c985c" stroke-width="1"/>
<rect x="119.0" y="550.6" width="5" height="6.6" fill="#5c985c"/>
<line x1="127.5" y1="552.8" x2="127.5" y2="569.7" stroke="#5c985c" stroke-width="1"/>
<rect x="125.0" y="558.0" width="5" height="9.5" fill="#5c985c"/>
<line x1="133.5" y1="555.8" x2="133.5" y2="567.5" stroke="#985c5a" stroke-width="1"/>
<rect x="131.5" y="555.8" width="4" height="11.7" fill="#fdf5f6" stroke="#985c5a" stroke-width="1"/>
<line x1="139.5" y1="535.2" x2="139.5" y2="551.4" stroke="#985c5a" stroke-width="1"/>
<rect x="137.5" y="537.2" width="4" height="14.2" fill="#fdf5f6" stroke="#985c5a" stroke-width="1"/>
<line x1="145.5" y1="533.8" x2="145.5" y2="551.4" stroke="#5c985c" stroke-width="1"/>
<rect x="143.0" y="536.0" width="5" height="15.4" fill="#5c985c"/>
<line x1="151.5" y1="538.9" x2="151.5" y2="549.2" stroke="#985c5a" stroke-width="1"/>
<rect x="149.5" y="541.8" width="4" height="7.4" fill="#fdf5f6" stroke="#985c5a" stroke-width="1"/>
<line x1="157.5" y1="537.2" x2="157.5" y2="548.4" stroke="#5c985c" stroke-width="1"/>
<rect x="155.0" y="540.4" width="5" height="5.8" fill="#5c985c"/>
<line x1="163.5" y1="549.9" x2="163.5" y2="562.4" stroke="#5c985c" stroke-width="1"/>
<rect x="161.0" y="549.9" width="5" height="9.5" fill="#5c985c"/>
<line x1="169.5" y1="552.1" x2="169.5" y2="560.9" stroke="#5c985c" stroke-width="1"/>
<rect x="167.0" y="557.2" width="5" height="1.5" fill="#5c985c"/>
<line x1="175.5" y1="541.0" x2="175.5" y2="555.8" stroke="#985c5a" stroke-width="1"/>
<rect x="173.5" y="541.8" width="4" height="13.0" fill="#fdf5f6" stroke="#985c5a" stroke-width="1"/>
<line x1="181.5" y1="540.0" x2="181.5" y2="547.4" stroke="#5c985c" stroke-width="1"/>
<rect x="179.0" y="541.8" width="5" height="3.7" fill="#5c985c"/>
<line x1="187.5" y1="525.0" x2="187.5" y2="547.7" stroke="#985c5a" stroke-width="1"/>
<rect x="185.5" y="532.3" width="4" height="15.4" fill="#fdf5f6" stroke="#985c5a" stroke-width="1"/>
<line x1="193.5" y1="528.7" x2="193.5" y2="536.0" stroke="#5c985c" stroke-width="1"/>
<rect x="191.0" y="532.3" width="5" height="2.9" fill="#5c985c"/>
<line x1="199.5" y1="525.0" x2="199.5" y2="541.8" stroke="#5c985c" stroke-width="1"/>
<rect x="197.0" y="534.2" width="5" height="5.4" fill="#5c985c"/>
<line x1="205.5" y1="532.3" x2="205.5" y2="542.6" stroke="#985c5a" stroke-width="1"/>
<rect x="203.5" y="536.0" width="4" height="2.9" fill="#fdf5f6" stroke="#985c5a" stroke-width="1"/>
<line x1="211.5" y1="534.5" x2="211.5" y2="556.5" stroke="#5c985c" stroke-width="1"/>
<rect x="209.0" y="536.0" width="5" height="20.5" fill="#5c985c"/>
<line x1="217.5" y1="544.8" x2="217.5" y2="555.0" stroke="#985c5a" stroke-width="1"/>
<rect x="215.5" y="544.8" width="4" height="7.3" fill="#fdf5f6" stroke="#985c5a" stroke-width="1"/>
<line x1="223.5" y1="538.9" x2="223.5" y2="545.5" stroke="#985c5a" stroke-width="1"/>
<rect x="221.0" y="541.8" width="5" height="1.5" fill="#985c5a"/>
<line x1="229.5" y1="526.5" x2="229.5" y2="540.4" stroke="#985c5a" stroke-width="1"/>
<rect x="227.5" y="526.5" width="4" height="13.9" fill="#fdf5f6" stroke="#985c5a" stroke-width="1"/>
<line x1="235.5" y1="511.0" x2="235.5" y2="526.5" stroke="#985c5a" stroke-width="1"/>
<rect x="233.5" y="521.3" width="4" height="3.0" fill="#fdf5f6" stroke="#985c5a" stroke-width="1"/>
<line x1="241.5" y1="513.3" x2="241.5" y2="520.6" stroke="#985c5a" stroke-width="1"/>
<rect x="239.5" y="517.0" width="4" height="3.6" fill="#fdf5f6" stroke="#985c5a" stroke-width="1"/>
<line x1="247.5" y1="510.4" x2="247.5" y2="518.4" stroke="#985c5a" stroke-width="1"/>
<rect x="245.5" y="514.0" width="4" height="3.0" fill="#fdf5f6" stroke="#985c5a" stroke-width="1"/>
<line x1="253.5" y1="506.3" x2="253.5" y2="515.5" stroke="#985c5a" stroke-width="1"/>
<rect x="251.5" y="510.0" width="4" height="3.3" fill="#fdf5f6" stroke="#985c5a" stroke-width="1"/>
<line x1="259.5" y1="499.4" x2="259.5" y2="508.9" stroke="#985c5a" stroke-width="1"/>
<rect x="257.5" y="501.3" width="4" height="7.6" fill="#fdf5f6" stroke="#985c5a" stroke-width="1"/>
<line x1="265.5" y1="494.3" x2="265.5" y2="503.3" stroke="#985c5a" stroke-width="1"/>
<rect x="263.5" y="496.0" width="4" height="4.1" fill="#fdf5f6" stroke="#985c5a" stroke-width="1"/>
<line x1="271.5" y1="495.0" x2="271.5" y2="500.9" stroke="#985c5a" stroke-width="1"/>
<rect x="269.0" y="497.5" width="5" height="1.2" fill="#985c5a"/>
<line x1="277.5" y1="489.9" x2="277.5" y2="496.5" stroke="#985c5a" stroke-width="1"/>
<rect x="275.5" y="492.0" width="4" height="4.5" fill="#fdf5f6" stroke="#985c5a" stroke-width="1"/>
<line x1="283.5" y1="481.0" x2="283.5" y2="493.5" stroke="#5c985c" stroke-width="1"/>
<rect x="281.0" y="491.3" width="5" height="1.5" fill="#5c985c"/>
<line x1="289.5" y1="480.3" x2="289.5" y2="493.0" stroke="#985c5a" stroke-width="1"/>
<rect x="287.5" y="481.0" width="4" height="12.0" fill="#fdf5f6" stroke="#985c5a" stroke-width="1"/>
<line x1="295.5" y1="475.9" x2="295.5" y2="487.7" stroke="#5c985c" stroke-width="1"/>
<rect x="293.0" y="480.3" width="5" height="5.2" fill="#5c985c"/>
<line x1="301.5" y1="473.4" x2="301.5" y2="482.5" stroke="#985c5a" stroke-width="1"/>
<rect x="299.0" y="478.4" width="5" height="1.9" fill="#985c5a"/>
<line x1="307.5" y1="457.6" x2="307.5" y2="476.4" stroke="#985c5a" stroke-width="1"/>
<rect x="305.0" y="475.2" width="5" height="1.2" fill="#985c5a"/>
<line x1="313.5" y1="745.3" x2="313.5" y2="755.5" stroke="#985c5a" stroke-width="1"/>
<rect x="311.5" y="746.0" width="4" height="8.8" fill="#fdf5f6" stroke="#985c5a" stroke-width="1"/>
<line x1="319.5" y1="748.2" x2="319.5" y2="767.6" stroke="#5c985c" stroke-width="1"/>
<rect x="317.0" y="751.8" width="5" height="12.9" fill="#5c985c"/>
<line x1="325.5" y1="761.0" x2="325.5" y2="773.5" stroke="#985c5a" stroke-width="1"/>
<rect x="323.5" y="766.5" width="4" height="5.1" fill="#fdf5f6" stroke="#985c5a" stroke-width="1"/>
<line x1="331.5" y1="763.2" x2="331.5" y2="772.7" stroke="#5c985c" stroke-width="1"/>
<rect x="329.0" y="764.3" width="5" height="2.9" fill="#5c985c"/>
<line x1="337.5" y1="768.0" x2="337.5" y2="787.4" stroke="#5c985c" stroke-width="1"/>
<rect x="335.0" y="768.0" width="5" height="19.4" fill="#5c985c"/>
<line x1="343.5" y1="781.2" x2="343.5" y2="790.7" stroke="#5c985c" stroke-width="1"/>
<rect x="341.0" y="784.5" width="5" height="5.1" fill="#5c985c"/>
<line x1="349.5" y1="784.0" x2="349.5" y2="793.6" stroke="#5c985c" stroke-width="1"/>
<rect x="347.0" y="786.3" width="5" height="4.4" fill="#5c985c"/>
<line x1="355.5" y1="776.4" x2="355.5" y2="792.5" stroke="#985c5a" stroke-width="1"/>
<rect x="353.5" y="779.3" width="4" height="10.3" fill="#fdf5f6" stroke="#985c5a" stroke-width="1"/>
<line x1="361.5" y1="771.3" x2="361.5" y2="788.5" stroke="#5c985c" stroke-width="1"/>
<rect x="359.0" y="772.0" width="5" height="15.4" fill="#5c985c"/>
<line x1="367.5" y1="774.9" x2="367.5" y2="788.5" stroke="#985c5a" stroke-width="1"/>
<rect x="365.5" y="780.4" width="4" height="7.0" fill="#fdf5f6" stroke="#985c5a" stroke-width="1"/>
<line x1="373.5" y1="747.1" x2="373.5" y2="759.5" stroke="#5c985c" stroke-width="1"/>
<rect x="371.0" y="750.0" width="5" height="3.3" fill="#5c985c"/>
<line x1="379.5" y1="750.0" x2="379.5" y2="756.2" stroke="#985c5a" stroke-width="1"/>
<rect x="377.5" y="752.2" width="4" height="4.0" fill="#fdf5f6" stroke="#985c5a" stroke-width="1"/>
<line x1="385.5" y1="748.9" x2="385.5" y2="761.4" stroke="#985c5a" stroke-width="1"/>
<rect x="383.5" y="756.2" width="4" height="4.4" fill="#fdf5f6" stroke="#985c5a" stroke-width="1"/>
<line x1="391.5" y1="763.2" x2="391.5" y2="773.1" stroke="#5c985c" stroke-width="1"/>
<rect x="389.0" y="763.2" width="5" height="9.9" fill="#5c985c"/>
<line x1="397.5" y1="770.2" x2="397.5" y2="775.3" stroke="#5c985c" stroke-width="1"/>
<rect x="395.0" y="772.7" width="5" height="2.6" fill="#5c985c"/>
<line x1="403.5" y1="776.3" x2="403.5" y2="786.5" stroke="#5c985c" stroke-width="1"/>
<rect x="401.0" y="781.3" width="5" height="3.3" fill="#5c985c"/>
<line x1="409.5" y1="779.3" x2="409.5" y2="784.9" stroke="#985c5a" stroke-width="1"/>
<rect x="407.0" y="780.6" width="5" height="1.2" fill="#985c5a"/>
<line x1="415.5" y1="773.3" x2="415.5" y2="778.8" stroke="#5c985c" stroke-width="1"/>
<rect x="413.0" y="777.8" width="5" height="1.2" fill="#5c985c"/>
<line x1="421.5" y1="758.0" x2="421.5" y2="776.3" stroke="#985c5a" stroke-width="1"/>
<rect x="419.5" y="765.1" width="4" height="10.2" fill="#fdf5f6" stroke="#985c5a" stroke-width="1"/>
<line x1="427.5" y1="765.1" x2="427.5" y2="779.3" stroke="#5c985c" stroke-width="1"/>
<rect x="425.0" y="767.2" width="5" height="12.1" fill="#5c985c"/>
<line x1="433.5" y1="777.3" x2="433.5" y2="785.4" stroke="#985c5a" stroke-width="1"/>
<rect x="431.0" y="780.4" width="5" height="1.2" fill="#985c5a"/>
<line x1="439.5" y1="779.3" x2="439.5" y2="793.5" stroke="#5c985c" stroke-width="1"/>
<rect x="437.0" y="783.9" width="5" height="6.6" fill="#5c985c"/>
<line x1="445.5" y1="787.3" x2="445.5" y2="800.6" stroke="#5c985c" stroke-width="1"/>
<rect x="443.0" y="790.0" width="5" height="10.6" fill="#5c985c"/>
<line x1="451.5" y1="797.1" x2="451.5" y2="812.8" stroke="#5c985c" stroke-width="1"/>
<rect x="449.0" y="801.1" width="5" height="4.6" fill="#5c985c"/>
<line x1="457.5" y1="806.2" x2="457.5" y2="823.5" stroke="#5c985c" stroke-width="1"/>
<rect x="455.0" y="807.7" width="5" height="8.7" fill="#5c985c"/>
<line x1="463.5" y1="813.3" x2="463.5" y2="822.4" stroke="#985c5a" stroke-width="1"/>
<rect x="461.5" y="816.4" width="4" height="4.0" fill="#fdf5f6" stroke="#985c5a" stroke-width="1"/>
<line x1="469.5" y1="815.3" x2="469.5" y2="838.2" stroke="#985c5a" stroke-width="1"/>
<rect x="467.0" y="821.4" width="5" height="2.1" fill="#985c5a"/>
<line x1="475.5" y1="817.4" x2="475.5" y2="827.5" stroke="#5c985c" stroke-width="1"/>
<rect x="473.0" y="821.9" width="5" height="3.1" fill="#5c985c"/>
<line x1="481.5" y1="812.3" x2="481.5" y2="827.5" stroke="#5c985c" stroke-width="1"/>
<rect x="479.0" y="814.3" width="5" height="12.7" fill="#5c985c"/>
<line x1="487.5" y1="816.4" x2="487.5" y2="826.8" stroke="#5c985c" stroke-width="1"/>
<rect x="485.0" y="826.0" width="5" height="1.2" fill="#5c985c"/>
<line x1="493.5" y1="821.4" x2="493.5" y2="838.2" stroke="#5c985c" stroke-width="1"/>
<rect x="491.0" y="823.0" width="5" height="13.8" fill="#5c985c"/>
<line x1="499.5" y1="824.0" x2="499.5" y2="837.0" stroke="#985c5a" stroke-width="1"/>
<rect x="497.0" y="835.5" width="5" height="1.5" fill="#985c5a"/>
<line x1="505.5" y1="814.1" x2="505.5" y2="841.5" stroke="#985c5a" stroke-width="1"/>
<rect x="503.5" y="815.0" width="4" height="24.4" fill="#fdf5f6" stroke="#985c5a" stroke-width="1"/>
<line x1="511.5" y1="808.3" x2="511.5" y2="815.5" stroke="#5c985c" stroke-width="1"/>
<rect x="509.0" y="811.9" width="5" height="1.2" fill="#5c985c"/>
<line x1="517.5" y1="810.1" x2="517.5" y2="814.6" stroke="#985c5a" stroke-width="1"/>
<rect x="515.0" y="811.8" width="5" height="1.2" fill="#985c5a"/>
<line x1="523.5" y1="791.1" x2="523.5" y2="807.4" stroke="#985c5a" stroke-width="1"/>
<rect x="521.0" y="806.3" width="5" height="1.2" fill="#985c5a"/>
<line x1="529.5" y1="798.4" x2="529.5" y2="810.1" stroke="#985c5a" stroke-width="1"/>
<rect x="527.0" y="806.0" width="5" height="1.2" fill="#985c5a"/>
<line x1="535.5" y1="795.7" x2="535.5" y2="805.6" stroke="#985c5a" stroke-width="1"/>
<rect x="533.5" y="799.3" width="4" height="3.6" fill="#fdf5f6" stroke="#985c5a" stroke-width="1"/>
<line x1="541.5" y1="797.9" x2="541.5" y2="810.5" stroke="#985c5a" stroke-width="1"/>
<rect x="539.5" y="807.4" width="4" height="3.1" fill="#fdf5f6" stroke="#985c5a" stroke-width="1"/>
<line x1="547.5" y1="788.9" x2="547.5" y2="805.6" stroke="#985c5a" stroke-width="1"/>
<rect x="545.5" y="791.1" width="4" height="13.1" fill="#fdf5f6" stroke="#985c5a" stroke-width="1"/>
<line x1="553.5" y1="788.4" x2="553.5" y2="793.9" stroke="#985c5a" stroke-width="1"/>
<rect x="551.0" y="790.8" width="5" height="1.2" fill="#985c5a"/>
<line x1="559.5" y1="785.3" x2="559.5" y2="794.8" stroke="#5c985c" stroke-width="1"/>
<rect x="557.0" y="789.3" width="5" height="5.5" fill="#5c985c"/>
<line x1="565.5" y1="781.2" x2="565.5" y2="792.0" stroke="#985c5a" stroke-width="1"/>
<rect x="563.5" y="783.0" width="4" height="9.0" fill="#fdf5f6" stroke="#985c5a" stroke-width="1"/>
<line x1="571.5" y1="576.3" x2="571.5" y2="589.5" stroke="#985c5a" stroke-width="1"/>
<rect x="569.5" y="580.4" width="4" height="6.1" fill="#fdf5f6" stroke="#985c5a" stroke-width="1"/>
<line x1="577.5" y1="567.2" x2="577.5" y2="580.6" stroke="#985c5a" stroke-width="1"/>
<rect x="575.5" y="568.2" width="4" height="12.4" fill="#fdf5f6" stroke="#985c5a" stroke-width="1"/>
<line x1="583.5" y1="568.9" x2="583.5" y2="580.4" stroke="#5c985c" stroke-width="1"/>
<rect x="581.0" y="571.2" width="5" height="8.5" fill="#5c985c"/>
<line x1="589.5" y1="579.0" x2="589.5" y2="588.5" stroke="#985c5a" stroke-width="1"/>
<rect x="587.0" y="585.1" width="5" height="1.2" fill="#985c5a"/>
<line x1="595.5" y1="574.3" x2="595.5" y2="600.7" stroke="#5c985c" stroke-width="1"/>
<rect x="593.0" y="581.4" width="5" height="16.2" fill="#5c985c"/>
<line x1="601.5" y1="587.1" x2="601.5" y2="596.6" stroke="#985c5a" stroke-width="1"/>
<rect x="599.5" y="589.5" width="4" height="5.1" fill="#fdf5f6" stroke="#985c5a" stroke-width="1"/>
<line x1="607.5" y1="581.0" x2="607.5" y2="590.5" stroke="#5c985c" stroke-width="1"/>
<rect x="605.0" y="582.1" width="5" height="4.7" fill="#5c985c"/>
<line x1="613.5" y1="583.1" x2="613.5" y2="592.6" stroke="#985c5a" stroke-width="1"/>
<rect x="611.0" y="588.8" width="5" height="1.2" fill="#985c5a"/>
<line x1="619.5" y1="584.1" x2="619.5" y2="592.6" stroke="#5c985c" stroke-width="1"/>
<rect x="617.0" y="588.5" width="5" height="1.2" fill="#5c985c"/>
<line x1="625.5" y1="592.2" x2="625.5" y2="605.1" stroke="#5c985c" stroke-width="1"/>
<rect x="623.0" y="592.2" width="5" height="9.5" fill="#5c985c"/>
<line x1="631.5" y1="595.6" x2="631.5" y2="599.7" stroke="#985c5a" stroke-width="1"/>
<rect x="629.0" y="597.6" width="5" height="2.1" fill="#985c5a"/>
<line x1="637.5" y1="594.9" x2="637.5" y2="602.7" stroke="#985c5a" stroke-width="1"/>
<rect x="635.5" y="594.9" width="4" height="5.1" fill="#fdf5f6" stroke="#985c5a" stroke-width="1"/>
<line x1="643.5" y1="592.9" x2="643.5" y2="599.7" stroke="#985c5a" stroke-width="1"/>
<rect x="641.0" y="595.3" width="5" height="1.2" fill="#985c5a"/>
<line x1="649.5" y1="583.1" x2="649.5" y2="591.9" stroke="#985c5a" stroke-width="1"/>
<rect x="647.5" y="587.8" width="4" height="4.1" fill="#fdf5f6" stroke="#985c5a" stroke-width="1"/>
<line x1="655.5" y1="578.0" x2="655.5" y2="585.1" stroke="#985c5a" stroke-width="1"/>
<rect x="653.5" y="579.4" width="4" height="4.0" fill="#fdf5f6" stroke="#985c5a" stroke-width="1"/>
<line x1="661.5" y1="576.2" x2="661.5" y2="583.4" stroke="#5c985c" stroke-width="1"/>
<rect x="659.0" y="578.0" width="5" height="3.5" fill="#5c985c"/>
<line x1="667.5" y1="578.3" x2="667.5" y2="583.8" stroke="#985c5a" stroke-width="1"/>
<rect x="665.0" y="580.9" width="5" height="2.1" fill="#985c5a"/>
<line x1="673.5" y1="577.1" x2="673.5" y2="582.1" stroke="#5c985c" stroke-width="1"/>
<rect x="671.0" y="577.9" width="5" height="2.1" fill="#5c985c"/>
<line x1="679.5" y1="576.2" x2="679.5" y2="580.9" stroke="#5c985c" stroke-width="1"/>
<rect x="677.0" y="577.5" width="5" height="3.4" fill="#5c985c"/>
<line x1="685.5" y1="555.9" x2="685.5" y2="571.6" stroke="#985c5a" stroke-width="1"/>
<rect x="683.5" y="560.2" width="4" height="11.4" fill="#fdf5f6" stroke="#985c5a" stroke-width="1"/>
<line x1="691.5" y1="555.1" x2="691.5" y2="563.5" stroke="#985c5a" stroke-width="1"/>
<rect x="689.0" y="557.2" width="5" height="2.1" fill="#985c5a"/>
<line x1="697.5" y1="528.9" x2="697.5" y2="556.8" stroke="#985c5a" stroke-width="1"/>
<rect x="695.5" y="539.0" width="4" height="17.8" fill="#fdf5f6" stroke="#985c5a" stroke-width="1"/>
<line x1="703.5" y1="531.0" x2="703.5" y2="540.7" stroke="#5c985c" stroke-width="1"/>
<rect x="701.0" y="536.9" width="5" height="3.0" fill="#5c985c"/>
<line x1="709.5" y1="536.1" x2="709.5" y2="543.7" stroke="#5c985c" stroke-width="1"/>
<rect x="707.0" y="538.2" width="5" height="2.9" fill="#5c985c"/>
<line x1="715.5" y1="533.5" x2="715.5" y2="544.1" stroke="#5c985c" stroke-width="1"/>
<rect x="713.0" y="540.3" width="5" height="3.8" fill="#5c985c"/>
<line x1="721.5" y1="538.2" x2="721.5" y2="560.6" stroke="#5c985c" stroke-width="1"/>
<rect x="719.0" y="546.2" width="5" height="11.8" fill="#5c985c"/>
<line x1="727.5" y1="551.3" x2="727.5" y2="558.9" stroke="#985c5a" stroke-width="1"/>
<rect x="725.0" y="555.1" width="5" height="1.2" fill="#985c5a"/>
<line x1="733.5" y1="550.9" x2="733.5" y2="557.2" stroke="#985c5a" stroke-width="1"/>
<rect x="731.0" y="553.4" width="5" height="1.2" fill="#985c5a"/>
<line x1="739.5" y1="543.2" x2="739.5" y2="552.1" stroke="#985c5a" stroke-width="1"/>
<rect x="737.5" y="545.8" width="4" height="6.3" fill="#fdf5f6" stroke="#985c5a" stroke-width="1"/>
<line x1="745.5" y1="531.0" x2="745.5" y2="546.2" stroke="#5c985c" stroke-width="1"/>
<rect x="743.0" y="544.1" width="5" height="2.1" fill="#5c985c"/>
<line x1="751.5" y1="524.2" x2="751.5" y2="546.3" stroke="#985c5a" stroke-width="1"/>
<rect x="749.5" y="530.3" width="4" height="14.2" fill="#fdf5f6" stroke="#985c5a" stroke-width="1"/>
<line x1="757.5" y1="522.4" x2="757.5" y2="531.4" stroke="#985c5a" stroke-width="1"/>
<rect x="755.5" y="524.6" width="4" height="4.5" fill="#fdf5f6" stroke="#985c5a" stroke-width="1"/>
<line x1="763.5" y1="501.2" x2="763.5" y2="518.3" stroke="#985c5a" stroke-width="1"/>
<rect x="761.5" y="511.1" width="4" height="7.2" fill="#fdf5f6" stroke="#985c5a" stroke-width="1"/>
<line x1="769.5" y1="506.1" x2="769.5" y2="513.4" stroke="#5c985c" stroke-width="1"/>
<rect x="767.0" y="508.4" width="5" height="4.1" fill="#5c985c"/>
<line x1="775.5" y1="503.0" x2="775.5" y2="524.6" stroke="#5c985c" stroke-width="1"/>
<rect x="773.0" y="517.4" width="5" height="1.2" fill="#5c985c"/>
<line x1="781.5" y1="506.1" x2="781.5" y2="513.4" stroke="#985c5a" stroke-width="1"/>
<rect x="779.5" y="510.7" width="4" height="2.7" fill="#fdf5f6" stroke="#985c5a" stroke-width="1"/>
<line x1="787.5" y1="510.7" x2="787.5" y2="524.2" stroke="#5c985c" stroke-width="1"/>
<rect x="785.0" y="517.0" width="5" height="2.7" fill="#5c985c"/>
<line x1="793.5" y1="506.1" x2="793.5" y2="512.5" stroke="#985c5a" stroke-width="1"/>
<rect x="791.5" y="509.3" width="4" height="3.2" fill="#fdf5f6" stroke="#985c5a" stroke-width="1"/>
<line x1="799.5" y1="502.1" x2="799.5" y2="511.1" stroke="#5c985c" stroke-width="1"/>
<rect x="797.0" y="505.2" width="5" height="3.2" fill="#5c985c"/>
<line x1="805.5" y1="495.3" x2="805.5" y2="510.7" stroke="#985c5a" stroke-width="1"/>
<rect x="803.5" y="497.6" width="4" height="9.0" fill="#fdf5f6" stroke="#985c5a" stroke-width="1"/>
<line x1="811.5" y1="489.0" x2="811.5" y2="499.4" stroke="#5c985c" stroke-width="1"/>
<rect x="809.0" y="494.0" width="5" height="5.4" fill="#5c985c"/>
<line x1="817.5" y1="498.5" x2="817.5" y2="510.2" stroke="#5c985c" stroke-width="1"/>
<rect x="815.0" y="503.9" width="5" height="5.0" fill="#5c985c"/>
<line x1="823.5" y1="506.1" x2="823.5" y2="514.7" stroke="#5c985c" stroke-width="1"/>
<rect x="821.0" y="507.5" width="5" height="1.2" fill="#5c985c"/>
<line x1="829.5" y1="506.1" x2="829.5" y2="513.8" stroke="#5c985c" stroke-width="1"/>
<rect x="827.0" y="508.4" width="5" height="4.5" fill="#5c985c"/>
<line x1="835.5" y1="283.0" x2="835.5" y2="293.5" stroke="#5c985c" stroke-width="1"/>
<rect x="833.0" y="286.3" width="5" height="6.4" fill="#5c985c"/>
<line x1="841.5" y1="282.1" x2="841.5" y2="307.5" stroke="#5c985c" stroke-width="1"/>
<rect x="839.0" y="288.5" width="5" height="19.0" fill="#5c985c"/>
<line x1="847.5" y1="304.1" x2="847.5" y2="316.8" stroke="#5c985c" stroke-width="1"/>
<rect x="845.0" y="307.0" width="5" height="1.2" fill="#5c985c"/>
<line x1="853.5" y1="286.3" x2="853.5" y2="307.5" stroke="#985c5a" stroke-width="1"/>
<rect x="851.5" y="289.3" width="4" height="16.9" fill="#fdf5f6" stroke="#985c5a" stroke-width="1"/>
<line x1="859.5" y1="265.2" x2="859.5" y2="293.5" stroke="#5c985c" stroke-width="1"/>
<rect x="857.0" y="287.2" width="5" height="6.3" fill="#5c985c"/>
<line x1="865.5" y1="260.1" x2="865.5" y2="293.5" stroke="#985c5a" stroke-width="1"/>
<rect x="863.5" y="263.1" width="4" height="30.4" fill="#fdf5f6" stroke="#985c5a" stroke-width="1"/>
<line x1="871.5" y1="255.9" x2="871.5" y2="271.6" stroke="#5c985c" stroke-width="1"/>
<rect x="869.0" y="259.3" width="5" height="6.3" fill="#5c985c"/>
<line x1="877.5" y1="261.0" x2="877.5" y2="271.6" stroke="#5c985c" stroke-width="1"/>
<rect x="875.0" y="264.8" width="5" height="1.2" fill="#5c985c"/>
<line x1="883.5" y1="261.0" x2="883.5" y2="278.3" stroke="#985c5a" stroke-width="1"/>
<rect x="881.5" y="263.1" width="4" height="3.4" fill="#fdf5f6" stroke="#985c5a" stroke-width="1"/>
<line x1="889.5" y1="263.1" x2="889.5" y2="279.2" stroke="#5c985c" stroke-width="1"/>
<rect x="887.0" y="263.1" width="5" height="12.7" fill="#5c985c"/>
<line x1="895.5" y1="271.1" x2="895.5" y2="280.0" stroke="#5c985c" stroke-width="1"/>
<rect x="893.0" y="273.2" width="5" height="6.8" fill="#5c985c"/>
<line x1="901.5" y1="271.1" x2="901.5" y2="297.8" stroke="#5c985c" stroke-width="1"/>
<rect x="899.0" y="277.0" width="5" height="17.4" fill="#5c985c"/>
<line x1="907.5" y1="291.0" x2="907.5" y2="301.6" stroke="#5c985c" stroke-width="1"/>
<rect x="905.0" y="297.4" width="5" height="1.2" fill="#5c985c"/>
<line x1="913.5" y1="294.0" x2="913.5" y2="321.9" stroke="#5c985c" stroke-width="1"/>
<rect x="911.0" y="294.0" width="5" height="20.7" fill="#5c985c"/>
<line x1="919.5" y1="301.1" x2="919.5" y2="314.7" stroke="#985c5a" stroke-width="1"/>
<rect x="917.5" y="303.3" width="4" height="11.4" fill="#fdf5f6" stroke="#985c5a" stroke-width="1"/>
<line x1="925.5" y1="296.1" x2="925.5" y2="309.6" stroke="#985c5a" stroke-width="1"/>
<rect x="923.0" y="299.9" width="5" height="1.3" fill="#985c5a"/>
<line x1="931.5" y1="293.1" x2="931.5" y2="299.4" stroke="#5c985c" stroke-width="1"/>
<rect x="929.0" y="296.0" width="5" height="1.2" fill="#5c985c"/>
<line x1="937.5" y1="274.2" x2="937.5" y2="299.4" stroke="#985c5a" stroke-width="1"/>
<rect x="935.5" y="275.1" width="4" height="24.3" fill="#fdf5f6" stroke="#985c5a" stroke-width="1"/>
<line x1="943.5" y1="273.3" x2="943.5" y2="289.5" stroke="#5c985c" stroke-width="1"/>
<rect x="941.0" y="276.9" width="5" height="6.8" fill="#5c985c"/>
<line x1="949.5" y1="266.1" x2="949.5" y2="292.2" stroke="#985c5a" stroke-width="1"/>
<rect x="947.5" y="271.3" width="4" height="12.8" fill="#fdf5f6" stroke="#985c5a" stroke-width="1"/>
<line x1="955.5" y1="267.9" x2="955.5" y2="292.2" stroke="#5c985c" stroke-width="1"/>
<rect x="953.0" y="273.3" width="5" height="18.9" fill="#5c985c"/>
<line x1="961.5" y1="272.4" x2="961.5" y2="288.6" stroke="#985c5a" stroke-width="1"/>
<rect x="959.5" y="282.1" width="4" height="5.2" fill="#fdf5f6" stroke="#985c5a" stroke-width="1"/>
<line x1="967.5" y1="275.1" x2="967.5" y2="287.7" stroke="#985c5a" stroke-width="1"/>
<rect x="965.0" y="281.0" width="5" height="1.2" fill="#985c5a"/>
<line x1="973.5" y1="267.9" x2="973.5" y2="287.3" stroke="#985c5a" stroke-width="1"/>
<rect x="971.5" y="270.1" width="4" height="15.8" fill="#fdf5f6" stroke="#985c5a" stroke-width="1"/>
<line x1="979.5" y1="254.8" x2="979.5" y2="271.5" stroke="#985c5a" stroke-width="1"/>
<rect x="977.5" y="265.6" width="4" height="3.6" fill="#fdf5f6" stroke="#985c5a" stroke-width="1"/>
<line x1="985.5" y1="257.1" x2="985.5" y2="269.7" stroke="#5c985c" stroke-width="1"/>
<rect x="983.0" y="262.0" width="5" height="5.9" fill="#5c985c"/>
<line x1="991.5" y1="249.4" x2="991.5" y2="268.3" stroke="#985c5a" stroke-width="1"/>
<rect x="989.5" y="251.2" width="4" height="17.1" fill="#fdf5f6" stroke="#985c5a" stroke-width="1"/>
<line x1="997.5" y1="218.4" x2="997.5" y2="246.4" stroke="#985c5a" stroke-width="1"/>
<rect x="995.5" y="220.1" width="4" height="26.3" fill="#fdf5f6" stroke="#985c5a" stroke-width="1"/>
<line x1="1003.5" y1="200.7" x2="1003.5" y2="228.6" stroke="#985c5a" stroke-width="1"/>
<rect x="1001.5" y="211.3" width="4" height="8.0" fill="#fdf5f6" stroke="#985c5a" stroke-width="1"/>
<line x1="1009.5" y1="180.4" x2="1009.5" y2="214.2" stroke="#985c5a" stroke-width="1"/>
<rect x="1007.5" y="183.8" width="4" height="30.4" fill="#fdf5f6" stroke="#985c5a" stroke-width="1"/>
<line x1="1015.5" y1="161.8" x2="1015.5" y2="186.3" stroke="#985c5a" stroke-width="1"/>
<rect x="1013.5" y="171.9" width="4" height="6.8" fill="#fdf5f6" stroke="#985c5a" stroke-width="1"/>
<line x1="1021.5" y1="138.1" x2="1021.5" y2="169.4" stroke="#985c5a" stroke-width="1"/>
<rect x="1019.5" y="138.1" width="4" height="27.0" fill="#fdf5f6" stroke="#985c5a" stroke-width="1"/>
<line x1="1027.5" y1="127.9" x2="1027.5" y2="157.5" stroke="#5c985c" stroke-width="1"/>
<rect x="1025.0" y="133.8" width="5" height="11.0" fill="#5c985c"/>
<line x1="1033.5" y1="130.5" x2="1033.5" y2="169.4" stroke="#5c985c" stroke-width="1"/>
<rect x="1031.0" y="142.3" width="5" height="20.3" fill="#5c985c"/>
<line x1="1039.5" y1="120.0" x2="1039.5" y2="165.1" stroke="#985c5a" stroke-width="1"/>
<rect x="1037.5" y="120.0" width="4" height="45.1" fill="#fdf5f6" stroke="#985c5a" stroke-width="1"/>
<line x1="1045.5" y1="106.8" x2="1045.5" y2="133.8" stroke="#5c985c" stroke-width="1"/>
<rect x="1043.0" y="120.0" width="5" height="4.5" fill="#5c985c"/>
<line x1="1051.5" y1="126.2" x2="1051.5" y2="152.5" stroke="#5c985c" stroke-width="1"/>
<rect x="1049.0" y="128.8" width="5" height="23.7" fill="#5c985c"/>
<line x1="1057.5" y1="154.1" x2="1057.5" y2="175.3" stroke="#5c985c" stroke-width="1"/>
<rect x="1055.0" y="154.1" width="5" height="8.5" fill="#5c985c"/>
<line x1="1063.5" y1="302.6" x2="1063.5" y2="311.4" stroke="#985c5a" stroke-width="1"/>
<rect x="1061.5" y="308.3" width="4" height="3.1" fill="#fdf5f6" stroke="#985c5a" stroke-width="1"/>
<line x1="1069.5" y1="298.1" x2="1069.5" y2="310.5" stroke="#5c985c" stroke-width="1"/>
<rect x="1067.0" y="305.5" width="5" height="1.2" fill="#5c985c"/>
<line x1="1075.5" y1="304.3" x2="1075.5" y2="311.7" stroke="#5c985c" stroke-width="1"/>
<rect x="1073.0" y="307.7" width="5" height="2.8" fill="#5c985c"/>
<line x1="1081.5" y1="313.9" x2="1081.5" y2="322.9" stroke="#5c985c" stroke-width="1"/>
<rect x="1079.0" y="313.9" width="5" height="7.9" fill="#5c985c"/>
<line x1="1087.5" y1="319.0" x2="1087.5" y2="332.5" stroke="#985c5a" stroke-width="1"/>
<rect x="1085.5" y="323.5" width="4" height="6.2" fill="#fdf5f6" stroke="#985c5a" stroke-width="1"/>
<line x1="1093.5" y1="317.9" x2="1093.5" y2="333.1" stroke="#5c985c" stroke-width="1"/>
<rect x="1091.0" y="320.1" width="5" height="7.3" fill="#5c985c"/>
<line x1="1099.5" y1="322.4" x2="1099.5" y2="328.6" stroke="#985c5a" stroke-width="1"/>
<rect x="1097.0" y="324.6" width="5" height="1.2" fill="#985c5a"/>
<line x1="1105.5" y1="317.9" x2="1105.5" y2="329.1" stroke="#985c5a" stroke-width="1"/>
<rect x="1103.5" y="322.9" width="4" height="2.3" fill="#fdf5f6" stroke="#985c5a" stroke-width="1"/>
<line x1="1111.5" y1="310.5" x2="1111.5" y2="320.1" stroke="#985c5a" stroke-width="1"/>
<rect x="1109.5" y="310.5" width="4" height="9.6" fill="#fdf5f6" stroke="#985c5a" stroke-width="1"/>
<line x1="1117.5" y1="299.3" x2="1117.5" y2="311.1" stroke="#5c985c" stroke-width="1"/>
<rect x="1115.0" y="307.2" width="5" height="3.9" fill="#5c985c"/>
<line x1="1123.5" y1="300.4" x2="1123.5" y2="307.2" stroke="#5c985c" stroke-width="1"/>
<rect x="1121.0" y="301.5" width="5" height="2.3" fill="#5c985c"/>
<line x1="1129.5" y1="281.2" x2="1129.5" y2="301.5" stroke="#985c5a" stroke-width="1"/>
<rect x="1127.5" y="282.4" width="4" height="19.1" fill="#fdf5f6" stroke="#985c5a" stroke-width="1"/>
<line x1="1135.5" y1="244.6" x2="1135.5" y2="279.5" stroke="#985c5a" stroke-width="1"/>
<rect x="1133.5" y="259.2" width="4" height="20.3" fill="#fdf5f6" stroke="#985c5a" stroke-width="1"/>
<line x1="1141.5" y1="258.1" x2="1141.5" y2="265.4" stroke="#985c5a" stroke-width="1"/>
<rect x="1139.0" y="262.2" width="5" height="1.2" fill="#985c5a"/>
<line x1="1147.5" y1="236.1" x2="1147.5" y2="258.5" stroke="#5c985c" stroke-width="1"/>
<rect x="1145.0" y="255.9" width="5" height="2.6" fill="#5c985c"/>
<line x1="1153.5" y1="255.9" x2="1153.5" y2="265.5" stroke="#5c985c" stroke-width="1"/>
<rect x="1151.0" y="262.4" width="5" height="3.1" fill="#5c985c"/>
<line x1="1159.5" y1="261.2" x2="1159.5" y2="277.5" stroke="#5c985c" stroke-width="1"/>
<rect x="1157.0" y="267.8" width="5" height="9.7" fill="#5c985c"/>
<line x1="1165.5" y1="269.3" x2="1165.5" y2="278.5" stroke="#985c5a" stroke-width="1"/>
<rect x="1163.5" y="269.3" width="4" height="6.1" fill="#fdf5f6" stroke="#985c5a" stroke-width="1"/>
<line x1="1171.5" y1="272.4" x2="1171.5" y2="288.6" stroke="#5c985c" stroke-width="1"/>
<rect x="1169.0" y="272.4" width="5" height="16.2" fill="#5c985c"/>
<line x1="1177.5" y1="282.5" x2="1177.5" y2="309.4" stroke="#5c985c" stroke-width="1"/>
<rect x="1175.0" y="293.2" width="5" height="14.7" fill="#5c985c"/>
<line x1="1183.5" y1="297.2" x2="1183.5" y2="308.4" stroke="#985c5a" stroke-width="1"/>
<rect x="1181.5" y="303.3" width="4" height="3.1" fill="#fdf5f6" stroke="#985c5a" stroke-width="1"/>
<line x1="1189.5" y1="295.7" x2="1189.5" y2="305.3" stroke="#5c985c" stroke-width="1"/>
<rect x="1187.0" y="300.3" width="5" height="3.3" fill="#5c985c"/>
<line x1="1195.5" y1="290.1" x2="1195.5" y2="303.3" stroke="#985c5a" stroke-width="1"/>
<rect x="1193.5" y="292.2" width="4" height="6.6" fill="#fdf5f6" stroke="#985c5a" stroke-width="1"/>
<line x1="1201.5" y1="288.6" x2="1201.5" y2="303.3" stroke="#5c985c" stroke-width="1"/>
<rect x="1199.0" y="291.1" width="5" height="9.2" fill="#5c985c"/>
<line x1="1207.5" y1="291.1" x2="1207.5" y2="304.8" stroke="#985c5a" stroke-width="1"/>
<rect x="1205.0" y="297.2" width="5" height="1.2" fill="#985c5a"/>
<line x1="1213.5" y1="283.0" x2="1213.5" y2="297.2" stroke="#985c5a" stroke-width="1"/>
<rect x="1211.5" y="289.1" width="4" height="6.1" fill="#fdf5f6" stroke="#985c5a" stroke-width="1"/>
<line x1="1219.5" y1="286.1" x2="1219.5" y2="308.4" stroke="#5c985c" stroke-width="1"/>
<rect x="1217.0" y="288.1" width="5" height="20.3" fill="#5c985c"/>
<line x1="1225.5" y1="291.1" x2="1225.5" y2="308.4" stroke="#985c5a" stroke-width="1"/>
<rect x="1223.5" y="299.3" width="4" height="8.1" fill="#fdf5f6" stroke="#985c5a" stroke-width="1"/>
<line x1="1231.5" y1="288.1" x2="1231.5" y2="296.8" stroke="#5c985c" stroke-width="1"/>
<rect x="1229.0" y="293.2" width="5" height="3.0" fill="#5c985c"/>
<line x1="1237.5" y1="290.1" x2="1237.5" y2="315.0" stroke="#5c985c" stroke-width="1"/>
<rect x="1235.0" y="293.2" width="5" height="7.6" fill="#5c985c"/>
<line x1="1243.5" y1="301.4" x2="1243.5" y2="320.7" stroke="#5c985c" stroke-width="1"/>
<rect x="1241.0" y="304.5" width="5" height="11.1" fill="#5c985c"/>
<line x1="1249.5" y1="317.2" x2="1249.5" y2="338.5" stroke="#5c985c" stroke-width="1"/>
<rect x="1247.0" y="320.0" width="5" height="11.4" fill="#5c985c"/>
<line x1="1255.5" y1="318.0" x2="1255.5" y2="328.7" stroke="#5c985c" stroke-width="1"/>
<rect x="1253.0" y="327.5" width="5" height="1.2" fill="#5c985c"/>
<line x1="1261.5" y1="320.4" x2="1261.5" y2="337.4" stroke="#985c5a" stroke-width="1"/>
<rect x="1259.5" y="324.3" width="4" height="6.3" fill="#fdf5f6" stroke="#985c5a" stroke-width="1"/>
<line x1="1267.5" y1="320.0" x2="1267.5" y2="335.8" stroke="#5c985c" stroke-width="1"/>
<rect x="1265.0" y="325.9" width="5" height="9.9" fill="#5c985c"/>
<line x1="1273.5" y1="316.8" x2="1273.5" y2="330.3" stroke="#985c5a" stroke-width="1"/>
<rect x="1271.5" y="322.4" width="4" height="7.9" fill="#fdf5f6" stroke="#985c5a" stroke-width="1"/>
<line x1="1279.5" y1="317.2" x2="1279.5" y2="345.6" stroke="#5c985c" stroke-width="1"/>
<rect x="1277.0" y="318.8" width="5" height="26.8" fill="#5c985c"/>
<line x1="1285.5" y1="343.3" x2="1285.5" y2="356.7" stroke="#5c985c" stroke-width="1"/>
<rect x="1283.0" y="349.2" width="5" height="7.5" fill="#5c985c"/>
<line x1="1291.5" y1="341.3" x2="1291.5" y2="354.3" stroke="#985c5a" stroke-width="1"/>
<rect x="1289.5" y="346.4" width="4" height="7.9" fill="#fdf5f6" stroke="#985c5a" stroke-width="1"/>
<line x1="1297.5" y1="327.1" x2="1297.5" y2="349.6" stroke="#985c5a" stroke-width="1"/>
<rect x="1295.5" y="333.8" width="4" height="12.6" fill="#fdf5f6" stroke="#985c5a" stroke-width="1"/>
<line x1="1303.5" y1="325.1" x2="1303.5" y2="345.2" stroke="#5c985c" stroke-width="1"/>
<rect x="1301.0" y="331.8" width="5" height="7.5" fill="#5c985c"/>
<line x1="1309.5" y1="321.2" x2="1309.5" y2="340.1" stroke="#985c5a" stroke-width="1"/>
<rect x="1307.5" y="330.6" width="4" height="9.5" fill="#fdf5f6" stroke="#985c5a" stroke-width="1"/>
<line x1="1315.5" y1="329.0" x2="1315.5" y2="342.5" stroke="#5c985c" stroke-width="1"/>
<rect x="1313.0" y="333.0" width="5" height="9.5" fill="#5c985c"/>
<line x1="1321.5" y1="601.4" x2="1321.5" y2="619.4" stroke="#5c985c" stroke-width="1"/>
<rect x="1319.0" y="613.2" width="5" height="1.2" fill="#5c985c"/>
<line x1="1327.5" y1="605.3" x2="1327.5" y2="616.6" stroke="#985c5a" stroke-width="1"/>
<rect x="1325.5" y="613.2" width="4" height="2.6" fill="#fdf5f6" stroke="#985c5a" stroke-width="1"/>
<line x1="1333.5" y1="602.5" x2="1333.5" y2="617.4" stroke="#5c985c" stroke-width="1"/>
<rect x="1331.0" y="607.2" width="5" height="10.2" fill="#5c985c"/>
<line x1="1339.5" y1="606.4" x2="1339.5" y2="619.4" stroke="#985c5a" stroke-width="1"/>
<rect x="1337.5" y="612.4" width="4" height="6.4" fill="#fdf5f6" stroke="#985c5a" stroke-width="1"/>
<line x1="1345.5" y1="621.7" x2="1345.5" y2="641.4" stroke="#985c5a" stroke-width="1"/>
<rect x="1343.5" y="624.5" width="4" height="4.5" fill="#fdf5f6" stroke="#985c5a" stroke-width="1"/>
<line x1="1351.5" y1="588.4" x2="1351.5" y2="612.6" stroke="#985c5a" stroke-width="1"/>
<rect x="1349.5" y="592.4" width="4" height="20.2" fill="#fdf5f6" stroke="#985c5a" stroke-width="1"/>
<line x1="1357.5" y1="586.1" x2="1357.5" y2="593.5" stroke="#985c5a" stroke-width="1"/>
<rect x="1355.5" y="591.0" width="4" height="2.5" fill="#fdf5f6" stroke="#985c5a" stroke-width="1"/>
<line x1="1363.5" y1="563.6" x2="1363.5" y2="578.6" stroke="#5c985c" stroke-width="1"/>
<rect x="1361.0" y="570.4" width="5" height="8.2" fill="#5c985c"/>
<line x1="1369.5" y1="577.7" x2="1369.5" y2="584.5" stroke="#5c985c" stroke-width="1"/>
<rect x="1367.0" y="579.4" width="5" height="5.1" fill="#5c985c"/>
<line x1="1375.5" y1="564.7" x2="1375.5" y2="575.4" stroke="#985c5a" stroke-width="1"/>
<rect x="1373.0" y="566.6" width="5" height="1.2" fill="#985c5a"/>
<line x1="1381.5" y1="552.3" x2="1381.5" y2="569.2" stroke="#985c5a" stroke-width="1"/>
<rect x="1379.5" y="561.3" width="4" height="7.9" fill="#fdf5f6" stroke="#985c5a" stroke-width="1"/>
<line x1="1387.5" y1="549.5" x2="1387.5" y2="565.9" stroke="#5c985c" stroke-width="1"/>
<rect x="1385.0" y="563.0" width="5" height="1.4" fill="#5c985c"/>
<line x1="1393.5" y1="558.5" x2="1393.5" y2="565.9" stroke="#985c5a" stroke-width="1"/>
<rect x="1391.0" y="561.7" width="5" height="1.3" fill="#985c5a"/>
<line x1="1399.5" y1="549.0" x2="1399.5" y2="560.2" stroke="#985c5a" stroke-width="1"/>
<rect x="1397.5" y="551.2" width="4" height="9.0" fill="#fdf5f6" stroke="#985c5a" stroke-width="1"/>
<line x1="1405.5" y1="554.0" x2="1405.5" y2="562.5" stroke="#5c985c" stroke-width="1"/>
<rect x="1403.0" y="556.8" width="5" height="5.7" fill="#5c985c"/>
<line x1="1411.5" y1="559.8" x2="1411.5" y2="565.9" stroke="#5c985c" stroke-width="1"/>
<rect x="1409.0" y="562.0" width="5" height="3.6" fill="#5c985c"/>
<line x1="1417.5" y1="557.2" x2="1417.5" y2="566.4" stroke="#985c5a" stroke-width="1"/>
<rect x="1415.0" y="561.2" width="5" height="1.2" fill="#985c5a"/>
<line x1="1423.5" y1="558.3" x2="1423.5" y2="567.8" stroke="#5c985c" stroke-width="1"/>
<rect x="1421.0" y="561.2" width="5" height="1.5" fill="#5c985c"/>
<line x1="1429.5" y1="558.0" x2="1429.5" y2="567.5" stroke="#985c5a" stroke-width="1"/>
<rect x="1427.5" y="562.3" width="4" height="4.4" fill="#fdf5f6" stroke="#985c5a" stroke-width="1"/>
<line x1="1435.5" y1="556.1" x2="1435.5" y2="581.8" stroke="#5c985c" stroke-width="1"/>
<rect x="1433.0" y="562.7" width="5" height="15.0" fill="#5c985c"/>
<line x1="1441.5" y1="581.0" x2="1441.5" y2="599.3" stroke="#5c985c" stroke-width="1"/>
<rect x="1439.0" y="581.0" width="5" height="12.8" fill="#5c985c"/>
<line x1="1447.5" y1="590.2" x2="1447.5" y2="597.5" stroke="#5c985c" stroke-width="1"/>
<rect x="1445.0" y="592.0" width="5" height="3.3" fill="#5c985c"/>
<line x1="1453.5" y1="581.4" x2="1453.5" y2="597.5" stroke="#5c985c" stroke-width="1"/>
<rect x="1451.0" y="590.2" width="5" height="3.6" fill="#5c985c"/>
<line x1="1459.5" y1="588.4" x2="1459.5" y2="599.3" stroke="#985c5a" stroke-width="1"/>
<rect x="1457.5" y="596.0" width="4" height="2.6" fill="#fdf5f6" stroke="#985c5a" stroke-width="1"/>
<line x1="1465.5" y1="586.2" x2="1465.5" y2="594.4" stroke="#985c5a" stroke-width="1"/>
<rect x="1463.0" y="593.6" width="5" height="1.2" fill="#985c5a"/>
<line x1="1471.5" y1="578.1" x2="1471.5" y2="586.2" stroke="#985c5a" stroke-width="1"/>
<rect x="1469.5" y="581.8" width="4" height="3.3" fill="#fdf5f6" stroke="#985c5a" stroke-width="1"/>
<line x1="1477.5" y1="581.2" x2="1477.5" y2="587.7" stroke="#5c985c" stroke-width="1"/>
<rect x="1475.0" y="583.2" width="5" height="1.2" fill="#5c985c"/>
<line x1="1483.5" y1="588.5" x2="1483.5" y2="593.6" stroke="#985c5a" stroke-width="1"/>
<rect x="1481.0" y="588.5" width="5" height="1.5" fill="#985c5a"/>
<line x1="1489.5" y1="581.2" x2="1489.5" y2="587.4" stroke="#5c985c" stroke-width="1"/>
<rect x="1487.0" y="585.5" width="5" height="1.9" fill="#5c985c"/>
<line x1="1495.5" y1="578.2" x2="1495.5" y2="597.6" stroke="#985c5a" stroke-width="1"/>
<rect x="1493.5" y="582.6" width="4" height="8.8" fill="#fdf5f6" stroke="#985c5a" stroke-width="1"/>
<line x1="1501.5" y1="577.1" x2="1501.5" y2="583.4" stroke="#985c5a" stroke-width="1"/>
<rect x="1499.0" y="581.2" width="5" height="2.2" fill="#985c5a"/>
<line x1="1507.5" y1="558.1" x2="1507.5" y2="574.9" stroke="#985c5a" stroke-width="1"/>
<rect x="1505.5" y="561.4" width="4" height="13.5" fill="#fdf5f6" stroke="#985c5a" stroke-width="1"/>
<line x1="1513.5" y1="551.1" x2="1513.5" y2="560.6" stroke="#985c5a" stroke-width="1"/>
<rect x="1511.5" y="557.3" width="4" height="3.3" fill="#fdf5f6" stroke="#985c5a" stroke-width="1"/>
<line x1="1519.5" y1="544.2" x2="1519.5" y2="553.7" stroke="#985c5a" stroke-width="1"/>
<rect x="1517.0" y="550.8" width="5" height="1.2" fill="#985c5a"/>
<line x1="1525.5" y1="543.1" x2="1525.5" y2="551.8" stroke="#985c5a" stroke-width="1"/>
<rect x="1523.0" y="549.0" width="5" height="1.2" fill="#985c5a"/>
<line x1="1531.5" y1="540.1" x2="1531.5" y2="549.7" stroke="#5c985c" stroke-width="1"/>
<rect x="1529.0" y="548.6" width="5" height="1.2" fill="#5c985c"/>
</g>
<polyline points="55.5,691.3 61.5,671.1 67.5,650.8 73.5,630.6 79.5,610.3 85.5,590.1 91.5,569.9 97.5,549.6 103.5,529.4 109.5,533.2 115.5,539.1 121.5,545.9 127.5,551.9 133.5,553.8 139.5,553.2 145.5,552.4 151.5,552.0 157.5,550.8 163.5,550.2 169.5,551.2 175.5,550.9 181.5,549.5 187.5,547.0 193.5,544.6 199.5,545.3 205.5,543.7 211.5,544.0 217.5,543.9 223.5,542.4 229.5,540.2 235.5,536.7 241.5,533.9 247.5,532.8 253.5,529.6 259.5,525.7 265.5,521.2 271.5,516.5 277.5,512.3 283.5,508.1 289.5,503.9 295.5,499.4 301.5,494.8 307.5,490.6 313.5,519.0 319.5,547.5 325.5,575.9 331.5,604.4 337.5,632.8 343.5,661.2 349.5,689.7 355.5,718.1 361.5,746.6 367.5,775.0 373.5,776.7 379.5,775.5 385.5,774.6 391.5,774.3 397.5,773.9 403.5,773.6 409.5,772.8 415.5,771.1 421.5,769.6 427.5,769.3 433.5,771.9 439.5,776.0 445.5,780.0 451.5,783.9 457.5,787.5 463.5,791.3 469.5,795.5 475.5,800.4 481.5,805.4 487.5,810.2 493.5,815.5 499.5,820.3 505.5,822.4 511.5,823.1 517.5,822.2 523.5,820.4 529.5,818.6 535.5,816.2 541.5,813.5 547.5,810.5 553.5,807.0 559.5,803.3 565.5,799.5 571.5,778.2 577.5,756.9 583.5,735.6 589.5,714.3 595.5,693.0 601.5,671.6 607.5,650.3 613.5,629.0 619.5,607.7 625.5,586.4 631.5,588.2 637.5,590.2 643.5,592.1 649.5,592.1 655.5,590.8 661.5,590.4 667.5,589.6 673.5,588.3 679.5,587.1 685.5,583.0 691.5,578.8 697.5,575.5 703.5,569.9 709.5,564.4 715.5,559.6 721.5,556.6 727.5,553.7 733.5,551.2 739.5,549.5 745.5,547.8 751.5,545.6 757.5,542.8 763.5,540.0 769.5,536.6 775.5,532.6 781.5,528.6 787.5,524.2 793.5,519.4 799.5,514.7 805.5,510.6 811.5,509.4 817.5,508.1 823.5,508.4 829.5,509.3 835.5,486.6 841.5,463.9 847.5,441.1 853.5,418.4 859.5,395.7 865.5,373.0 871.5,350.3 877.5,327.5 883.5,304.8 889.5,282.1 895.5,279.8 901.5,279.0 907.5,278.4 913.5,280.6 919.5,282.1 925.5,285.1 931.5,288.5 937.5,290.1 943.5,291.3 949.5,291.3 955.5,290.9 961.5,289.1 967.5,286.2 973.5,282.7 979.5,280.1 985.5,277.5 991.5,274.2 997.5,270.3 1003.5,262.1 1009.5,251.5 1015.5,239.9 1021.5,227.7 1027.5,213.8 1033.5,200.5 1039.5,187.6 1045.5,176.2 1051.5,165.5 1057.5,156.9 1063.5,162.3 1069.5,175.8 1075.5,190.3 1081.5,205.9 1087.5,226.1 1093.5,248.1 1099.5,266.3 1105.5,283.2 1111.5,300.0 1117.5,316.8 1123.5,315.2 1129.5,310.8 1135.5,306.1 1141.5,299.9 1147.5,293.7 1153.5,288.6 1159.5,284.2 1165.5,279.6 1171.5,277.2 1177.5,276.9 1183.5,277.6 1189.5,279.7 1195.5,283.1 1201.5,286.8 1207.5,290.8 1213.5,293.8 1219.5,296.0 1225.5,297.4 1231.5,297.4 1237.5,298.5 1243.5,300.9 1249.5,303.8 1255.5,306.4 1261.5,309.2 1267.5,312.5 1273.5,316.1 1279.5,320.0 1285.5,324.8 1291.5,329.4 1297.5,332.8 1303.5,334.6 1309.5,335.2 1315.5,338.5 1321.5,364.4 1327.5,390.4 1333.5,416.4 1339.5,442.3 1345.5,468.2 1351.5,494.2 1357.5,520.1 1363.5,546.1 1369.5,572.0 1375.5,598.0 1381.5,593.7 1387.5,588.9 1393.5,583.7 1399.5,577.2 1405.5,570.7 1411.5,567.5 1417.5,565.1 1423.5,563.1 1429.5,562.0 1435.5,562.5 1441.5,565.9 1447.5,569.9 1453.5,573.4 1459.5,576.4 1465.5,579.7 1471.5,582.0 1477.5,583.8 1483.5,587.2 1489.5,589.0 1495.5,588.9 1501.5,588.2 1507.5,584.4 1513.5,580.3 1519.5,576.2 1525.5,572.3 1531.5,569.0" fill="none" stroke="#10102a" stroke-width="1.1" stroke-linejoin="round" shape-rendering="crispEdges"/>
<polyline points="55.5,640.6 61.5,595.7 67.5,550.8 73.5,510.1 79.5,515.8 85.5,525.3 91.5,536.5 97.5,543.7 103.5,549.2 109.5,551.2 115.5,552.8 121.5,554.7 127.5,557.1 133.5,556.5 139.5,552.7 145.5,552.5 151.5,549.5 157.5,546.4 163.5,547.6 169.5,550.5 175.5,550.4 181.5,549.3 187.5,546.3 193.5,542.9 199.5,539.1 205.5,537.7 211.5,539.5 217.5,542.2 223.5,542.3 229.5,540.3 235.5,536.8 241.5,530.5 247.5,524.4 253.5,518.7 259.5,512.2 265.5,507.1 271.5,502.4 277.5,497.7 283.5,494.6 289.5,491.7 295.5,488.7 301.5,485.6 307.5,482.5 313.5,539.3 319.5,596.1 325.5,652.9 331.5,709.7 337.5,766.5 343.5,775.0 349.5,780.7 355.5,783.7 361.5,786.2 367.5,785.3 373.5,778.8 379.5,773.1 385.5,766.9 391.5,762.5 397.5,762.7 403.5,768.1 409.5,773.5 415.5,778.7 421.5,776.3 427.5,776.3 433.5,776.8 439.5,778.9 445.5,782.3 451.5,791.6 457.5,798.9 463.5,805.0 469.5,810.4 475.5,815.4 481.5,820.2 487.5,823.9 493.5,826.6 499.5,828.9 505.5,828.3 511.5,824.3 517.5,822.3 523.5,817.3 529.5,811.5 535.5,807.4 541.5,804.6 547.5,801.7 553.5,798.3 559.5,796.0 565.5,792.0 571.5,749.9 577.5,707.7 583.5,665.6 589.5,623.4 595.5,581.3 601.5,584.1 607.5,586.8 613.5,589.0 619.5,590.2 625.5,591.5 631.5,592.9 637.5,593.9 643.5,595.0 649.5,593.1 655.5,590.1 661.5,586.8 667.5,583.3 673.5,581.0 679.5,579.7 685.5,576.3 691.5,570.6 697.5,561.0 703.5,551.4 709.5,544.1 715.5,543.2 721.5,544.9 727.5,547.4 733.5,550.0 739.5,550.3 745.5,548.2 751.5,543.2 757.5,536.6 763.5,529.8 769.5,523.2 775.5,516.7 781.5,512.9 787.5,511.4 793.5,509.9 799.5,507.9 805.5,505.6 811.5,504.6 817.5,504.1 823.5,504.8 829.5,505.8 835.5,464.1 841.5,422.4 847.5,380.7 853.5,339.0 859.5,297.3 865.5,291.9 871.5,282.9 877.5,274.7 883.5,268.5 889.5,266.2 895.5,269.0 901.5,275.5 907.5,282.1 913.5,291.8 919.5,297.8 925.5,300.8 931.5,301.3 937.5,294.7 943.5,288.9 949.5,284.0 955.5,283.3 961.5,280.5 967.5,280.5 973.5,278.1 979.5,274.6 985.5,270.8 991.5,266.6 997.5,256.5 1003.5,239.7 1009.5,225.5 1015.5,208.8 1021.5,186.8 1027.5,173.6 1033.5,161.4 1039.5,147.9 1045.5,138.1 1051.5,139.8 1057.5,145.7 1063.5,169.1 1069.5,206.2 1075.5,249.0 1081.5,283.8 1087.5,311.6 1093.5,316.9 1099.5,320.5 1105.5,322.1 1111.5,319.1 1117.5,315.5 1123.5,311.1 1129.5,302.8 1135.5,292.7 1141.5,280.6 1147.5,272.4 1153.5,266.4 1159.5,265.0 1165.5,267.1 1171.5,272.7 1177.5,282.0 1183.5,289.6 1189.5,294.8 1195.5,298.5 1201.5,300.3 1207.5,298.0 1213.5,294.6 1219.5,296.4 1225.5,297.6 1231.5,298.1 1237.5,299.0 1243.5,303.2 1249.5,310.0 1255.5,315.0 1261.5,320.8 1267.5,325.6 1273.5,328.8 1279.5,331.3 1285.5,334.9 1291.5,340.5 1297.5,342.0 1303.5,342.1 1309.5,338.7 1315.5,337.5 1321.5,393.0 1327.5,448.5 1333.5,503.9 1339.5,559.4 1345.5,614.9 1351.5,611.9 1357.5,606.8 1363.5,600.2 1369.5,592.8 1375.5,583.8 1381.5,578.6 1387.5,573.4 1393.5,567.7 1399.5,561.2 1405.5,559.7 1411.5,560.0 1417.5,560.5 1423.5,560.9 1429.5,561.4 1435.5,562.7 1441.5,569.3 1447.5,575.9 1453.5,582.3 1459.5,589.7 1465.5,594.0 1471.5,591.1 1477.5,588.7 1483.5,587.8 1489.5,586.5 1495.5,584.3 1501.5,582.9 1507.5,579.4 1513.5,573.9 1519.5,566.8 1525.5,559.9 1531.5,554.0" fill="none" stroke="#000000" stroke-width="1.1" stroke-linejoin="round" shape-rendering="crispEdges"/>
<line x1="305.0" y1="458.4" x2="312.0" y2="458.4" stroke="#000" stroke-width="1.2"/><line x1="308.5" y1="456.09999999999997" x2="308.5" y2="460.7" stroke="#000" stroke-width="1.1"/>
<line x1="1043.0" y1="107.4" x2="1050.0" y2="107.4" stroke="#000" stroke-width="1.2"/><line x1="1046.5" y1="105.10000000000001" x2="1046.5" y2="109.7" stroke="#000" stroke-width="1.1"/>
<line x1="503.0" y1="841.5" x2="510.0" y2="841.5" stroke="#000" stroke-width="1.2"/><line x1="506.5" y1="839.2" x2="506.5" y2="843.8" stroke="#000" stroke-width="1.1"/>
<line x1="1343.0" y1="641.5" x2="1350.0" y2="641.5" stroke="#000" stroke-width="1.2"/><line x1="1346.5" y1="639.2" x2="1346.5" y2="643.8" stroke="#000" stroke-width="1.1"/>
<text x="311.5" y="455" class="hl" fill="#b04848">4351.6</text>
<text x="1050" y="104" class="hl" fill="#b8404a">5641.8</text>
<text x="510.2" y="852.7" class="hl" fill="#4f7f52">2942.2</text>
<text x="1350" y="652.7" class="hl" fill="#4f7f52">3677.4</text>
<text x="48.3" y="22" class="ax" text-anchor="end">5965.8</text>
<text x="1559.8" y="22" class="ax">5965.8</text>
<text x="48.3" y="77" class="ax" text-anchor="end">5763.6</text>
<text x="1559.8" y="77" class="ax">5763.6</text>
<text x="48.3" y="132" class="ax" text-anchor="end">5561.4</text>
<text x="1559.8" y="132" class="ax">5561.4</text>
<text x="48.3" y="187" class="ax" text-anchor="end">5359.2</text>
<text x="1559.8" y="187" class="ax">5359.2</text>
<text x="48.3" y="242" class="ax" text-anchor="end">5157.0</text>
<text x="1559.8" y="242" class="ax">5157.0</text>
<text x="48.3" y="297" class="ax" text-anchor="end">4954.8</text>
<text x="1559.8" y="297" class="ax">4954.8</text>
<text x="48.3" y="352" class="ax" text-anchor="end">4752.6</text>
<text x="1559.8" y="352" class="ax">4752.6</text>
<text x="48.3" y="407" class="ax" text-anchor="end">4550.4</text>
<text x="1559.8" y="407" class="ax">4550.4</text>
<text x="48.3" y="462" class="ax" text-anchor="end">4348.2</text>
<text x="1559.8" y="462" class="ax">4348.2</text>
<text x="48.3" y="517" class="ax" text-anchor="end">4146.0</text>
<text x="1559.8" y="517" class="ax">4146.0</text>
<text x="48.3" y="572" class="ax" text-anchor="end">3943.8</text>
<text x="1559.8" y="572" class="ax">3943.8</text>
<text x="48.3" y="627" class="ax" text-anchor="end">3741.6</text>
<text x="1559.8" y="627" class="ax">3741.6</text>
<text x="48.3" y="682" class="ax" text-anchor="end">3539.4</text>
<text x="1559.8" y="682" class="ax">3539.4</text>
<text x="48.3" y="737" class="ax" text-anchor="end">3337.2</text>
<text x="1559.8" y="737" class="ax">3337.2</text>
<text x="48.3" y="792" class="ax" text-anchor="end">3135.0</text>
<text x="1559.8" y="792" class="ax">3135.0</text>
<text x="48.3" y="847" class="ax" text-anchor="end">2932.8</text>
<text x="1559.8" y="847" class="ax">2932.8</text>
<rect x="1557.5" y="549.5" width="70" height="16.5" fill="#fff" stroke="#a88c4c" stroke-width="1"/>
<text x="1559.8" y="561.8" class="ax" style="fill:#dc9a4e">4017.2</text>
<path d="M1616.5,549.5 L1619,546 L1620,546 L1621,541.5 L1623,541.5 L1623,549.5 Z" fill="#f09030"/>
<path d="M1620,696 L1623,696 L1623,706 Z" fill="#e07040"/>
<text x="52.8" y="11" textLength="37.1" lengthAdjust="spacing" class="lgt" fill="#222">IF2301</text>
<text x="160.8" y="11" textLength="134.0" lengthAdjust="spacing" class="lgt" fill="#222">MA(5,10,30,60,100,200)</text>
<text x="298.5" y="11" textLength="68.4" lengthAdjust="spacing" class="lgt" fill="#222">MA5:4002.4</text>
<text x="375.3" y="11" textLength="75.5" lengthAdjust="spacing" class="lgt" fill="#222e7c">MA10:3943.7</text>
<text x="457.0" y="11" textLength="75.9" lengthAdjust="spacing" class="lgt" fill="#d446d4">MA30:3929.3</text>
<text x="540.7" y="11" textLength="74.9" lengthAdjust="spacing" class="lgt" fill="#e3a04a">MA60:4289.3</text>
<text x="623.4" y="11" textLength="82.2" lengthAdjust="spacing" class="lgt" fill="#8c8c8c">MA100:4614.7</text>
<text x="712.8" y="11" textLength="83.5" lengthAdjust="spacing" class="lgt" fill="#c45050">MA200:4217.6</text>
</svg>
<div class="lg" style="left:90.5px;color:#e8922e;font-family:'Noto Sans CJK SC',sans-serif;letter-spacing:0">【日线】</div>
<svg class="tb" style="left:146px;top:0" width="13" height="13" viewBox="0 0 13 13"><path d="M0.5,0 V11 M11.5,0 V11 M0.5,11 H11.5" fill="none" stroke="#1c1448" stroke-width="1" shape-rendering="crispEdges"/><path d="M1,10.5 H11.5" stroke="#1c1448" stroke-width="1.4"/><polyline points="1,8.7 4.4,1.5 7.5,4.5 10.8,2" fill="none" stroke="#3c1c52" stroke-width="1"/><polyline points="1,5.4 4.4,4.2 7.5,7.4 10.8,5.4" fill="none" stroke="#2a1a5e" stroke-width="1"/></svg>
<div style="position:absolute;left:1416px;top:-5px;width:73px;height:16px;border:1px solid #555;background:#fff;"></div>
<div class="lg" style="left:1423px;top:-2px;color:#444;font-family:'Noto Sans CJK SC',sans-serif;font-size:12px;letter-spacing:0">全部主题</div>
<svg class="tb" style="left:1473px;top:2px" width="9" height="8" viewBox="0 0 9 8"><path d="M0.5,0.5 L8.3,0.5 L4.4,7.4 Z" fill="#333"/></svg>
<svg class="tb" style="left:1493px;top:0" width="64" height="13" viewBox="0 0 64 13">
<g fill="#e6f8fc" stroke="#2c6a80" stroke-width="1">
<rect x="1.5" y="-2" width="13" height="13.5"/><rect x="17.5" y="-2" width="13" height="13.5"/><rect x="33.5" y="-2" width="13" height="13.5"/><rect x="49.5" y="-2" width="13" height="13.5"/>
</g>
<g stroke="#1f6a80" stroke-width="1.3" fill="none">
<path d="M3.5,5 h2.5 M7,5 h2 M10.5,5 h2.5 M8,0 v2.5 M8,4 v2 M8,7.2 v2.6"/>
<path d="M20.5,0 v10 M20.5,8.6 h8 M27,7.3 l1.6,1.3 l-1.6,1.3 M23.5,1.3 v5.6"/>
<path d="M36.5,0 v10 M36.5,8.6 h8 M43,7.3 l1.6,1.3 l-1.6,1.3"/>
<path d="M52,0 v9.3 h2.8 v-9.3 M54,5 h5.5"/>
</g>
<g fill="#1f6a80"><path d="M24,4 L27,1.5 L27,6.5 Z"/><path d="M39,1.3 L43.8,4.3 L39,7.2 Z"/><path d="M57.8,2.5 L60.6,5 L57.8,7.5 Z"/></g>
</svg>
</body></html>
